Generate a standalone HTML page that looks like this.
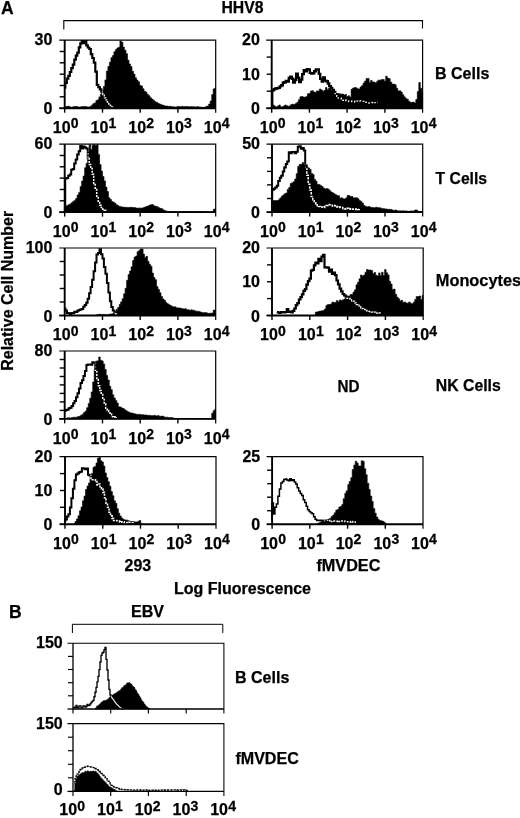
<!DOCTYPE html>
<html><head><meta charset="utf-8"><title>Figure</title>
<style>html,body{margin:0;padding:0;background:#fff}svg{display:block}</style>
</head><body>
<svg width="520" height="818" viewBox="0 0 520 818">
<rect width="520" height="818" fill="#fff"/>
<path d="M63.8 29.5 V20.6 H422.5 V28.5" fill="none" stroke="#000" stroke-width="1.1"/>
<path d="M72.4 633 V624.3 H222.8 V633" fill="none" stroke="#000" stroke-width="1.0"/>
<path d="M64.6 87.6H65.3 V82.9H66.8 V78.7H68.3 V75.9H69.8 V72.0H71.3 V68.1H72.8 V64.7H74.3 V59.7H75.8 V55.7H77.3 V52.6H78.8 V47.4H80.3 V43.4H81.8 V41.0H83.3 V43.2H84.8 V41.1H86.3 V45.4H87.8 V47.5H89.3 V49.0H90.8 V54.2H92.3 V58.0H93.8 V62.6H95.3 V71.7H96.8 V84.8H98.3 V87.1H99.8 V89.3H101.3 V91.6H102.8 V94.5H104.3 V97.8H105.8 V99.9H107.3 V102.2H108.8 V104.1H110.3 V105.5H111.8 V106.9H113.3 V107.5H114.0" fill="none" stroke="#000" stroke-width="2.20" stroke-linejoin="miter"/>
<clipPath id="c1"><path d="M65.0 108.2 V107.2H65.8 V106.5H67.3 V106.2H68.8 V106.5H70.3 V107.4H71.8 V107.0H73.3 V106.6H74.8 V106.6H76.3 V106.4H77.8 V107.1H79.3 V107.0H80.8 V106.7H82.3 V106.6H83.8 V106.4H85.3 V106.5H86.8 V106.9H88.3 V106.9H89.8 V106.5H91.3 V105.2H92.8 V103.8H94.3 V102.9H95.9 V100.6H97.4 V99.8H98.9 V96.9H100.4 V94.2H101.9 V91.2H103.4 V86.4H104.9 V79.9H106.4 V71.1H107.9 V66.4H109.4 V62.3H110.9 V57.7H112.4 V55.6H113.9 V51.7H115.4 V49.6H116.9 V48.0H118.4 V47.2H119.9 V41.0H121.4 V42.2H122.9 V47.1H124.4 V50.2H126.0 V53.7H127.5 V60.2H129.0 V64.0H130.5 V66.6H132.0 V71.2H133.5 V74.1H135.0 V77.8H136.5 V80.1H138.0 V81.7H139.5 V85.3H141.0 V86.0H142.5 V88.8H144.0 V91.2H145.5 V92.2H147.0 V94.4H148.5 V95.7H150.0 V97.8H151.5 V99.1H153.0 V100.2H154.5 V101.7H156.1 V102.3H157.6 V103.3H159.1 V104.0H160.6 V104.7H162.1 V105.1H163.6 V105.7H165.1 V106.1H166.6 V106.0H168.1 V106.4H169.6 V106.2H171.1 V106.7H172.6 V106.7H174.1 V107.0H175.6 V106.9H177.1 V106.5H178.6 V106.6H180.1 V106.8H181.6 V106.3H183.1 V106.7H184.6 V106.5H186.2 V106.5H187.7 V106.5H189.2 V107.0H190.7 V106.6H192.2 V106.7H193.7 V106.8H195.2 V107.2H196.7 V106.6H198.2 V106.9H199.7 V107.0H201.2 V107.3H202.7 V107.3H204.2 V107.3H205.7 V106.6H207.2 V105.9H208.7 V104.0H210.2 V100.9H211.7 V94.6H213.2 V88.9H214.7 V88.0H215.5V108.2 Z"/></clipPath>
<path d="M65.0 108.2 V107.2H65.8 V106.5H67.3 V106.2H68.8 V106.5H70.3 V107.4H71.8 V107.0H73.3 V106.6H74.8 V106.6H76.3 V106.4H77.8 V107.1H79.3 V107.0H80.8 V106.7H82.3 V106.6H83.8 V106.4H85.3 V106.5H86.8 V106.9H88.3 V106.9H89.8 V106.5H91.3 V105.2H92.8 V103.8H94.3 V102.9H95.9 V100.6H97.4 V99.8H98.9 V96.9H100.4 V94.2H101.9 V91.2H103.4 V86.4H104.9 V79.9H106.4 V71.1H107.9 V66.4H109.4 V62.3H110.9 V57.7H112.4 V55.6H113.9 V51.7H115.4 V49.6H116.9 V48.0H118.4 V47.2H119.9 V41.0H121.4 V42.2H122.9 V47.1H124.4 V50.2H126.0 V53.7H127.5 V60.2H129.0 V64.0H130.5 V66.6H132.0 V71.2H133.5 V74.1H135.0 V77.8H136.5 V80.1H138.0 V81.7H139.5 V85.3H141.0 V86.0H142.5 V88.8H144.0 V91.2H145.5 V92.2H147.0 V94.4H148.5 V95.7H150.0 V97.8H151.5 V99.1H153.0 V100.2H154.5 V101.7H156.1 V102.3H157.6 V103.3H159.1 V104.0H160.6 V104.7H162.1 V105.1H163.6 V105.7H165.1 V106.1H166.6 V106.0H168.1 V106.4H169.6 V106.2H171.1 V106.7H172.6 V106.7H174.1 V107.0H175.6 V106.9H177.1 V106.5H178.6 V106.6H180.1 V106.8H181.6 V106.3H183.1 V106.7H184.6 V106.5H186.2 V106.5H187.7 V106.5H189.2 V107.0H190.7 V106.6H192.2 V106.7H193.7 V106.8H195.2 V107.2H196.7 V106.6H198.2 V106.9H199.7 V107.0H201.2 V107.3H202.7 V107.3H204.2 V107.3H205.7 V106.6H207.2 V105.9H208.7 V104.0H210.2 V100.9H211.7 V94.6H213.2 V88.9H214.7 V88.0H215.5V108.2 Z" fill="#000" stroke="#000" stroke-width="0.6"/>
<path d="M64.6 87.6H65.3 V82.9H66.8 V78.7H68.3 V75.9H69.8 V72.0H71.3 V68.1H72.8 V64.7H74.3 V59.7H75.8 V55.7H77.3 V52.6H78.8 V47.4H80.3 V43.4H81.8 V41.0H83.3 V43.2H84.8 V41.1H86.3 V45.4H87.8 V47.5H89.3 V49.0H90.8 V54.2H92.3 V58.0H93.8 V62.6H95.3 V71.7H96.8 V84.8H98.3 V87.1H99.8 V89.3H101.3 V91.6H102.8 V94.5H104.3 V97.8H105.8 V99.9H107.3 V102.2H108.8 V104.1H110.3 V105.5H111.8 V106.9H113.3 V107.5H114.0" fill="none" stroke="#fff" stroke-width="1.30" stroke-dasharray="2 1.2" clip-path="url(#c1)"/>
<path d="M59.2 40.1 H215.7 V112.7" fill="none" stroke="#000" stroke-width="1.20"/>
<path d="M64.7 40.1 V108.2 H215.7" fill="none" stroke="#000" stroke-width="1.90"/>
<path d="M59.2 108.2 H64.7" fill="none" stroke="#000" stroke-width="1.90"/>
<path d="M59.7 51.5 H64.7" stroke="#000" stroke-width="1.40"/>
<path d="M59.7 62.8 H64.7" stroke="#000" stroke-width="1.40"/>
<path d="M59.7 74.2 H64.7" stroke="#000" stroke-width="1.40"/>
<path d="M59.7 85.5 H64.7" stroke="#000" stroke-width="1.40"/>
<path d="M59.7 96.8 H64.7" stroke="#000" stroke-width="1.40"/>
<path d="M64.7 108.2 V112.7" stroke="#000" stroke-width="1.40"/>
<path d="M102.5 108.2 V112.7" stroke="#000" stroke-width="1.40"/>
<path d="M140.2 108.2 V112.7" stroke="#000" stroke-width="1.40"/>
<path d="M177.9 108.2 V112.7" stroke="#000" stroke-width="1.40"/>
<text x="52.4" y="45.1" font-family="Liberation Sans, Arial, Helvetica, sans-serif" font-weight="bold" stroke="#000" stroke-width="0.25" font-size="16.0" text-anchor="end">30</text>
<text x="52.4" y="114.4" font-family="Liberation Sans, Arial, Helvetica, sans-serif" font-weight="bold" stroke="#000" stroke-width="0.25" font-size="16.0" text-anchor="end">0</text>
<text x="52.8" y="132.8" font-family="Liberation Sans, Arial, Helvetica, sans-serif" font-weight="bold" stroke="#000" stroke-width="0.25" font-size="16.0">10</text>
<text transform="translate(70.8 128.4) scale(0.54)" font-family="Liberation Sans, Arial, Helvetica, sans-serif" font-weight="bold" stroke="#000" stroke-width="0.5" font-size="26">0</text>
<text x="90.5" y="132.8" font-family="Liberation Sans, Arial, Helvetica, sans-serif" font-weight="bold" stroke="#000" stroke-width="0.25" font-size="16.0">10</text>
<text transform="translate(108.5 128.4) scale(0.54)" font-family="Liberation Sans, Arial, Helvetica, sans-serif" font-weight="bold" stroke="#000" stroke-width="0.5" font-size="26">1</text>
<text x="128.3" y="132.8" font-family="Liberation Sans, Arial, Helvetica, sans-serif" font-weight="bold" stroke="#000" stroke-width="0.25" font-size="16.0">10</text>
<text transform="translate(146.3 128.4) scale(0.54)" font-family="Liberation Sans, Arial, Helvetica, sans-serif" font-weight="bold" stroke="#000" stroke-width="0.5" font-size="26">2</text>
<text x="166.0" y="132.8" font-family="Liberation Sans, Arial, Helvetica, sans-serif" font-weight="bold" stroke="#000" stroke-width="0.25" font-size="16.0">10</text>
<text transform="translate(184.0 128.4) scale(0.54)" font-family="Liberation Sans, Arial, Helvetica, sans-serif" font-weight="bold" stroke="#000" stroke-width="0.5" font-size="26">3</text>
<text x="203.8" y="132.8" font-family="Liberation Sans, Arial, Helvetica, sans-serif" font-weight="bold" stroke="#000" stroke-width="0.25" font-size="16.0">10</text>
<text transform="translate(221.8 128.4) scale(0.54)" font-family="Liberation Sans, Arial, Helvetica, sans-serif" font-weight="bold" stroke="#000" stroke-width="0.5" font-size="26">4</text>
<path d="M64.4 204.8H65.2 V178.6H66.7 V177.9H68.2 V175.8H69.7 V174.4H71.2 V169.8H72.7 V169.0H74.2 V163.5H75.7 V159.5H77.2 V154.6H78.7 V151.3H80.2 V146.0H81.7 V148.4H83.2 V146.5H84.7 V147.6H86.2 V148.6H87.7 V157.7H89.2 V164.4H90.7 V168.5H92.2 V174.3H93.7 V183.4H95.2 V189.5H96.7 V197.5H98.2 V202.4H99.7 V205.3H101.2 V207.5H102.7 V209.2H104.2 V210.2H105.7 V211.3H106.5" fill="none" stroke="#000" stroke-width="2.00" stroke-linejoin="miter"/>
<clipPath id="c2"><path d="M64.4 212.1 V206.8H65.1 V206.2H66.6 V205.4H68.1 V204.8H69.6 V204.0H71.1 V202.8H72.6 V201.4H74.1 V200.4H75.6 V198.5H77.1 V195.0H78.6 V192.4H80.1 V186.4H81.6 V181.1H83.1 V176.0H84.6 V167.7H86.1 V163.3H87.6 V151.5H89.1 V144.8H90.6 V149.4H92.1 V145.3H93.6 V144.7H95.1 V145.4H96.6 V144.7H98.1 V154.4H99.6 V164.6H101.1 V171.1H102.5 V176.4H104.0 V180.9H105.5 V187.1H107.0 V191.6H108.5 V197.8H110.0 V199.5H111.5 V201.6H113.0 V202.2H114.5 V203.3H116.0 V204.7H117.5 V205.7H119.0 V206.4H120.5 V206.8H122.0 V207.1H123.5 V207.3H125.0 V207.2H126.5 V207.6H128.0 V207.5H129.5 V207.3H131.0 V207.3H132.5 V207.6H134.0 V207.6H135.5 V208.0H137.0 V208.3H138.5 V207.9H139.9 V208.2H141.4 V208.0H142.9 V207.7H144.4 V207.0H145.9 V206.5H147.4 V205.9H148.9 V205.3H150.4 V204.7H151.9 V204.6H153.4 V205.8H154.9 V206.3H156.4 V206.6H157.9 V207.4H159.4 V208.3H160.9 V208.5H162.4 V209.7H163.9 V210.4H165.4 V210.9H166.9 V211.4H168.4 V211.5H169.9 V211.4H171.4 V211.6H172.9 V211.5H174.4 V211.6H175.9 V211.7H177.4 V211.5H178.8 V211.5H180.3 V211.7H181.8 V211.6H183.3 V211.5H184.8 V211.5H186.3 V211.5H187.8 V211.7H189.3 V211.7H190.8 V211.5H192.3 V211.7H193.8 V211.8H195.3 V211.7H196.8 V211.6H198.3 V211.7H199.8 V211.5H201.3 V211.5H202.8 V211.8H204.3 V211.7H205.8 V211.7H207.3 V211.8H208.8 V211.7H210.3 V211.8H211.8 V211.8H213.3 V209.3H214.8 V208.8H215.5V212.1 Z"/></clipPath>
<path d="M64.4 212.1 V206.8H65.1 V206.2H66.6 V205.4H68.1 V204.8H69.6 V204.0H71.1 V202.8H72.6 V201.4H74.1 V200.4H75.6 V198.5H77.1 V195.0H78.6 V192.4H80.1 V186.4H81.6 V181.1H83.1 V176.0H84.6 V167.7H86.1 V163.3H87.6 V151.5H89.1 V144.8H90.6 V149.4H92.1 V145.3H93.6 V144.7H95.1 V145.4H96.6 V144.7H98.1 V154.4H99.6 V164.6H101.1 V171.1H102.5 V176.4H104.0 V180.9H105.5 V187.1H107.0 V191.6H108.5 V197.8H110.0 V199.5H111.5 V201.6H113.0 V202.2H114.5 V203.3H116.0 V204.7H117.5 V205.7H119.0 V206.4H120.5 V206.8H122.0 V207.1H123.5 V207.3H125.0 V207.2H126.5 V207.6H128.0 V207.5H129.5 V207.3H131.0 V207.3H132.5 V207.6H134.0 V207.6H135.5 V208.0H137.0 V208.3H138.5 V207.9H139.9 V208.2H141.4 V208.0H142.9 V207.7H144.4 V207.0H145.9 V206.5H147.4 V205.9H148.9 V205.3H150.4 V204.7H151.9 V204.6H153.4 V205.8H154.9 V206.3H156.4 V206.6H157.9 V207.4H159.4 V208.3H160.9 V208.5H162.4 V209.7H163.9 V210.4H165.4 V210.9H166.9 V211.4H168.4 V211.5H169.9 V211.4H171.4 V211.6H172.9 V211.5H174.4 V211.6H175.9 V211.7H177.4 V211.5H178.8 V211.5H180.3 V211.7H181.8 V211.6H183.3 V211.5H184.8 V211.5H186.3 V211.5H187.8 V211.7H189.3 V211.7H190.8 V211.5H192.3 V211.7H193.8 V211.8H195.3 V211.7H196.8 V211.6H198.3 V211.7H199.8 V211.5H201.3 V211.5H202.8 V211.8H204.3 V211.7H205.8 V211.7H207.3 V211.8H208.8 V211.7H210.3 V211.8H211.8 V211.8H213.3 V209.3H214.8 V208.8H215.5V212.1 Z" fill="#000" stroke="#000" stroke-width="0.6"/>
<path d="M64.4 204.8H65.2 V178.6H66.7 V177.9H68.2 V175.8H69.7 V174.4H71.2 V169.8H72.7 V169.0H74.2 V163.5H75.7 V159.5H77.2 V154.6H78.7 V151.3H80.2 V146.0H81.7 V148.4H83.2 V146.5H84.7 V147.6H86.2 V148.6H87.7 V157.7H89.2 V164.4H90.7 V168.5H92.2 V174.3H93.7 V183.4H95.2 V189.5H96.7 V197.5H98.2 V202.4H99.7 V205.3H101.2 V207.5H102.7 V209.2H104.2 V210.2H105.7 V211.3H106.5" fill="none" stroke="#fff" stroke-width="1.50" stroke-dasharray="2 1.2" clip-path="url(#c2)"/>
<path d="M59.2 144.2 H215.7 V216.6" fill="none" stroke="#000" stroke-width="1.20"/>
<path d="M64.7 144.2 V212.1 H215.7" fill="none" stroke="#000" stroke-width="1.90"/>
<path d="M59.2 212.1 H64.7" fill="none" stroke="#000" stroke-width="1.90"/>
<path d="M59.7 155.5 H64.7" stroke="#000" stroke-width="1.40"/>
<path d="M59.7 166.8 H64.7" stroke="#000" stroke-width="1.40"/>
<path d="M59.7 178.1 H64.7" stroke="#000" stroke-width="1.40"/>
<path d="M59.7 189.5 H64.7" stroke="#000" stroke-width="1.40"/>
<path d="M59.7 200.8 H64.7" stroke="#000" stroke-width="1.40"/>
<path d="M64.7 212.1 V216.6" stroke="#000" stroke-width="1.40"/>
<path d="M102.5 212.1 V216.6" stroke="#000" stroke-width="1.40"/>
<path d="M140.2 212.1 V216.6" stroke="#000" stroke-width="1.40"/>
<path d="M177.9 212.1 V216.6" stroke="#000" stroke-width="1.40"/>
<text x="52.4" y="149.2" font-family="Liberation Sans, Arial, Helvetica, sans-serif" font-weight="bold" stroke="#000" stroke-width="0.25" font-size="16.0" text-anchor="end">60</text>
<text x="52.4" y="218.3" font-family="Liberation Sans, Arial, Helvetica, sans-serif" font-weight="bold" stroke="#000" stroke-width="0.25" font-size="16.0" text-anchor="end">0</text>
<text x="52.8" y="236.7" font-family="Liberation Sans, Arial, Helvetica, sans-serif" font-weight="bold" stroke="#000" stroke-width="0.25" font-size="16.0">10</text>
<text transform="translate(70.8 232.3) scale(0.54)" font-family="Liberation Sans, Arial, Helvetica, sans-serif" font-weight="bold" stroke="#000" stroke-width="0.5" font-size="26">0</text>
<text x="90.5" y="236.7" font-family="Liberation Sans, Arial, Helvetica, sans-serif" font-weight="bold" stroke="#000" stroke-width="0.25" font-size="16.0">10</text>
<text transform="translate(108.5 232.3) scale(0.54)" font-family="Liberation Sans, Arial, Helvetica, sans-serif" font-weight="bold" stroke="#000" stroke-width="0.5" font-size="26">1</text>
<text x="128.3" y="236.7" font-family="Liberation Sans, Arial, Helvetica, sans-serif" font-weight="bold" stroke="#000" stroke-width="0.25" font-size="16.0">10</text>
<text transform="translate(146.3 232.3) scale(0.54)" font-family="Liberation Sans, Arial, Helvetica, sans-serif" font-weight="bold" stroke="#000" stroke-width="0.5" font-size="26">2</text>
<text x="166.0" y="236.7" font-family="Liberation Sans, Arial, Helvetica, sans-serif" font-weight="bold" stroke="#000" stroke-width="0.25" font-size="16.0">10</text>
<text transform="translate(184.0 232.3) scale(0.54)" font-family="Liberation Sans, Arial, Helvetica, sans-serif" font-weight="bold" stroke="#000" stroke-width="0.5" font-size="26">3</text>
<text x="203.8" y="236.7" font-family="Liberation Sans, Arial, Helvetica, sans-serif" font-weight="bold" stroke="#000" stroke-width="0.25" font-size="16.0">10</text>
<text transform="translate(221.8 232.3) scale(0.54)" font-family="Liberation Sans, Arial, Helvetica, sans-serif" font-weight="bold" stroke="#000" stroke-width="0.5" font-size="26">4</text>
<path d="M64.7 308.5H65.4 V310.4H66.9 V313.1H68.4 V313.3H69.9 V313.9H71.4 V313.1H72.8 V313.2H74.3 V311.8H75.8 V312.0H77.3 V310.8H78.8 V310.0H80.2 V309.5H81.7 V308.9H83.2 V306.7H84.7 V305.0H86.2 V302.8H87.6 V298.7H89.1 V293.2H90.6 V287.0H92.1 V279.8H93.6 V271.3H95.1 V262.6H96.5 V254.5H98.0 V252.9H99.5 V249.2H101.0 V254.3H102.5 V258.6H103.9 V266.9H105.4 V273.8H106.9 V282.9H108.4 V292.4H109.9 V301.3H111.3 V307.0H112.8 V310.4H114.3 V312.8H115.8 V314.0H117.3 V313.9H118.0" fill="none" stroke="#000" stroke-width="2.00" stroke-linejoin="miter"/>
<clipPath id="c3"><path d="M96.0 315.5 V314.9H96.7 V314.8H98.2 V314.3H99.7 V314.3H101.2 V314.6H102.7 V314.4H104.2 V314.5H105.7 V314.7H107.2 V314.8H108.7 V314.2H110.2 V314.1H111.7 V313.7H113.2 V313.3H114.7 V311.5H116.2 V309.4H117.7 V307.5H119.2 V304.5H120.6 V301.9H122.1 V298.7H123.6 V293.8H125.1 V288.3H126.6 V280.3H128.1 V274.5H129.6 V271.1H131.1 V266.8H132.6 V260.5H134.1 V257.1H135.6 V256.0H137.1 V251.7H138.6 V250.5H140.1 V249.0H141.6 V249.0H143.1 V254.1H144.5 V257.4H146.0 V256.3H147.5 V261.3H149.0 V264.2H150.5 V266.2H152.0 V273.1H153.5 V277.6H155.0 V279.7H156.5 V286.6H158.0 V289.4H159.5 V292.8H161.0 V296.5H162.5 V298.9H164.0 V300.3H165.5 V302.6H167.0 V303.7H168.4 V304.6H169.9 V305.5H171.4 V306.2H172.9 V306.9H174.4 V306.8H175.9 V307.7H177.4 V308.0H178.9 V307.9H180.4 V308.3H181.9 V308.8H183.4 V308.9H184.9 V308.7H186.4 V309.7H187.9 V309.8H189.4 V310.2H190.9 V309.8H192.3 V310.3H193.8 V310.4H195.3 V311.3H196.8 V311.2H198.3 V311.4H199.8 V311.9H201.3 V312.6H202.8 V312.8H204.3 V312.6H205.8 V312.7H207.3 V313.4H208.8 V313.2H210.3 V313.3H211.8 V312.9H213.3 V310.0H214.8 V310.2H215.5V315.5 Z"/></clipPath>
<path d="M96.0 315.5 V314.9H96.7 V314.8H98.2 V314.3H99.7 V314.3H101.2 V314.6H102.7 V314.4H104.2 V314.5H105.7 V314.7H107.2 V314.8H108.7 V314.2H110.2 V314.1H111.7 V313.7H113.2 V313.3H114.7 V311.5H116.2 V309.4H117.7 V307.5H119.2 V304.5H120.6 V301.9H122.1 V298.7H123.6 V293.8H125.1 V288.3H126.6 V280.3H128.1 V274.5H129.6 V271.1H131.1 V266.8H132.6 V260.5H134.1 V257.1H135.6 V256.0H137.1 V251.7H138.6 V250.5H140.1 V249.0H141.6 V249.0H143.1 V254.1H144.5 V257.4H146.0 V256.3H147.5 V261.3H149.0 V264.2H150.5 V266.2H152.0 V273.1H153.5 V277.6H155.0 V279.7H156.5 V286.6H158.0 V289.4H159.5 V292.8H161.0 V296.5H162.5 V298.9H164.0 V300.3H165.5 V302.6H167.0 V303.7H168.4 V304.6H169.9 V305.5H171.4 V306.2H172.9 V306.9H174.4 V306.8H175.9 V307.7H177.4 V308.0H178.9 V307.9H180.4 V308.3H181.9 V308.8H183.4 V308.9H184.9 V308.7H186.4 V309.7H187.9 V309.8H189.4 V310.2H190.9 V309.8H192.3 V310.3H193.8 V310.4H195.3 V311.3H196.8 V311.2H198.3 V311.4H199.8 V311.9H201.3 V312.6H202.8 V312.8H204.3 V312.6H205.8 V312.7H207.3 V313.4H208.8 V313.2H210.3 V313.3H211.8 V312.9H213.3 V310.0H214.8 V310.2H215.5V315.5 Z" fill="#000" stroke="#000" stroke-width="0.6"/>
<path d="M64.7 308.5H65.4 V310.4H66.9 V313.1H68.4 V313.3H69.9 V313.9H71.4 V313.1H72.8 V313.2H74.3 V311.8H75.8 V312.0H77.3 V310.8H78.8 V310.0H80.2 V309.5H81.7 V308.9H83.2 V306.7H84.7 V305.0H86.2 V302.8H87.6 V298.7H89.1 V293.2H90.6 V287.0H92.1 V279.8H93.6 V271.3H95.1 V262.6H96.5 V254.5H98.0 V252.9H99.5 V249.2H101.0 V254.3H102.5 V258.6H103.9 V266.9H105.4 V273.8H106.9 V282.9H108.4 V292.4H109.9 V301.3H111.3 V307.0H112.8 V310.4H114.3 V312.8H115.8 V314.0H117.3 V313.9H118.0" fill="none" stroke="#fff" stroke-width="1.30" stroke-dasharray="2 1.2" clip-path="url(#c3)"/>
<path d="M59.2 248.0 H215.7 V320.0" fill="none" stroke="#000" stroke-width="1.20"/>
<path d="M64.7 248.0 V315.5 H215.7" fill="none" stroke="#000" stroke-width="1.90"/>
<path d="M59.2 315.5 H64.7" fill="none" stroke="#000" stroke-width="1.90"/>
<path d="M59.7 261.5 H64.7" stroke="#000" stroke-width="1.40"/>
<path d="M59.7 275.0 H64.7" stroke="#000" stroke-width="1.40"/>
<path d="M59.7 288.5 H64.7" stroke="#000" stroke-width="1.40"/>
<path d="M59.7 302.0 H64.7" stroke="#000" stroke-width="1.40"/>
<path d="M64.7 315.5 V320.0" stroke="#000" stroke-width="1.40"/>
<path d="M102.5 315.5 V320.0" stroke="#000" stroke-width="1.40"/>
<path d="M140.2 315.5 V320.0" stroke="#000" stroke-width="1.40"/>
<path d="M177.9 315.5 V320.0" stroke="#000" stroke-width="1.40"/>
<text x="52.4" y="253.0" font-family="Liberation Sans, Arial, Helvetica, sans-serif" font-weight="bold" stroke="#000" stroke-width="0.25" font-size="16.0" text-anchor="end">100</text>
<text x="52.4" y="321.7" font-family="Liberation Sans, Arial, Helvetica, sans-serif" font-weight="bold" stroke="#000" stroke-width="0.25" font-size="16.0" text-anchor="end">0</text>
<text x="52.8" y="340.1" font-family="Liberation Sans, Arial, Helvetica, sans-serif" font-weight="bold" stroke="#000" stroke-width="0.25" font-size="16.0">10</text>
<text transform="translate(70.8 335.7) scale(0.54)" font-family="Liberation Sans, Arial, Helvetica, sans-serif" font-weight="bold" stroke="#000" stroke-width="0.5" font-size="26">0</text>
<text x="90.5" y="340.1" font-family="Liberation Sans, Arial, Helvetica, sans-serif" font-weight="bold" stroke="#000" stroke-width="0.25" font-size="16.0">10</text>
<text transform="translate(108.5 335.7) scale(0.54)" font-family="Liberation Sans, Arial, Helvetica, sans-serif" font-weight="bold" stroke="#000" stroke-width="0.5" font-size="26">1</text>
<text x="128.3" y="340.1" font-family="Liberation Sans, Arial, Helvetica, sans-serif" font-weight="bold" stroke="#000" stroke-width="0.25" font-size="16.0">10</text>
<text transform="translate(146.3 335.7) scale(0.54)" font-family="Liberation Sans, Arial, Helvetica, sans-serif" font-weight="bold" stroke="#000" stroke-width="0.5" font-size="26">2</text>
<text x="166.0" y="340.1" font-family="Liberation Sans, Arial, Helvetica, sans-serif" font-weight="bold" stroke="#000" stroke-width="0.25" font-size="16.0">10</text>
<text transform="translate(184.0 335.7) scale(0.54)" font-family="Liberation Sans, Arial, Helvetica, sans-serif" font-weight="bold" stroke="#000" stroke-width="0.5" font-size="26">3</text>
<text x="203.8" y="340.1" font-family="Liberation Sans, Arial, Helvetica, sans-serif" font-weight="bold" stroke="#000" stroke-width="0.25" font-size="16.0">10</text>
<text transform="translate(221.8 335.7) scale(0.54)" font-family="Liberation Sans, Arial, Helvetica, sans-serif" font-weight="bold" stroke="#000" stroke-width="0.5" font-size="26">4</text>
<path d="M64.9 410.9H65.6 V410.1H67.1 V409.7H68.6 V408.2H70.1 V407.8H71.6 V405.9H73.1 V403.2H74.5 V400.9H76.0 V397.3H77.5 V393.2H79.0 V388.5H80.5 V383.0H82.0 V380.3H83.4 V376.1H84.9 V370.9H86.4 V365.1H87.9 V364.4H89.4 V364.4H90.8 V364.7H92.3 V362.3H93.8 V362.8H95.3 V371.4H96.8 V379.4H98.3 V385.8H99.7 V390.4H101.2 V394.4H102.7 V399.4H104.2 V403.8H105.7 V408.3H107.2 V410.3H108.6 V412.9H110.1 V414.1H111.6 V416.7H113.1 V417.3H114.6 V416.8H116.1 V417.8H116.8" fill="none" stroke="#000" stroke-width="2.00" stroke-linejoin="miter"/>
<clipPath id="c4"><path d="M66.3 418.9 V418.3H67.1 V417.8H68.6 V417.8H70.1 V418.0H71.6 V417.5H73.1 V417.3H74.6 V417.2H76.1 V417.2H77.6 V416.4H79.1 V416.3H80.6 V415.2H82.1 V414.2H83.6 V412.6H85.1 V411.1H86.6 V407.7H88.2 V403.4H89.7 V398.2H91.2 V391.9H92.7 V382.0H94.2 V370.1H95.7 V361.2H97.2 V360.8H98.7 V357.0H100.2 V360.2H101.7 V360.9H103.2 V363.9H104.7 V369.5H106.2 V375.4H107.7 V380.0H109.3 V386.3H110.8 V389.7H112.3 V394.7H113.8 V398.0H115.3 V400.4H116.8 V403.0H118.3 V406.8H119.8 V407.0H121.3 V408.0H122.8 V408.6H124.3 V409.8H125.8 V410.8H127.3 V411.7H128.8 V412.4H130.4 V413.1H131.9 V413.1H133.4 V413.7H134.9 V413.9H136.4 V414.5H137.9 V414.3H139.4 V414.4H140.9 V414.7H142.4 V414.7H143.9 V415.0H145.4 V415.0H146.9 V415.3H148.4 V415.3H149.9 V415.4H151.4 V415.7H153.0 V415.4H154.5 V415.5H156.0 V416.1H157.5 V415.6H159.0 V416.2H160.5 V416.3H162.0 V416.1H163.5 V416.9H165.0 V417.2H166.5 V417.2H168.0 V417.5H169.5 V417.8H171.0 V417.5H172.5 V418.1H174.1 V418.3H175.6 V418.6H177.1 V418.6H178.6 V418.6H180.1 V418.6H181.6 V418.7H183.1 V418.6H184.6 V418.6H186.1 V418.5H187.6 V418.4H189.1 V418.5H190.6 V418.5H192.1 V418.5H193.6 V418.7H195.2 V418.6H196.7 V418.7H198.2 V418.7H199.7 V418.7H201.2 V418.6H202.7 V418.5H204.2 V418.8H205.7 V418.7H207.2 V418.7H208.7 V418.7H210.2 V418.7H211.7 V413.2H213.2 V410.8H214.7 V409.3H215.5V418.9 Z"/></clipPath>
<path d="M66.3 418.9 V418.3H67.1 V417.8H68.6 V417.8H70.1 V418.0H71.6 V417.5H73.1 V417.3H74.6 V417.2H76.1 V417.2H77.6 V416.4H79.1 V416.3H80.6 V415.2H82.1 V414.2H83.6 V412.6H85.1 V411.1H86.6 V407.7H88.2 V403.4H89.7 V398.2H91.2 V391.9H92.7 V382.0H94.2 V370.1H95.7 V361.2H97.2 V360.8H98.7 V357.0H100.2 V360.2H101.7 V360.9H103.2 V363.9H104.7 V369.5H106.2 V375.4H107.7 V380.0H109.3 V386.3H110.8 V389.7H112.3 V394.7H113.8 V398.0H115.3 V400.4H116.8 V403.0H118.3 V406.8H119.8 V407.0H121.3 V408.0H122.8 V408.6H124.3 V409.8H125.8 V410.8H127.3 V411.7H128.8 V412.4H130.4 V413.1H131.9 V413.1H133.4 V413.7H134.9 V413.9H136.4 V414.5H137.9 V414.3H139.4 V414.4H140.9 V414.7H142.4 V414.7H143.9 V415.0H145.4 V415.0H146.9 V415.3H148.4 V415.3H149.9 V415.4H151.4 V415.7H153.0 V415.4H154.5 V415.5H156.0 V416.1H157.5 V415.6H159.0 V416.2H160.5 V416.3H162.0 V416.1H163.5 V416.9H165.0 V417.2H166.5 V417.2H168.0 V417.5H169.5 V417.8H171.0 V417.5H172.5 V418.1H174.1 V418.3H175.6 V418.6H177.1 V418.6H178.6 V418.6H180.1 V418.6H181.6 V418.7H183.1 V418.6H184.6 V418.6H186.1 V418.5H187.6 V418.4H189.1 V418.5H190.6 V418.5H192.1 V418.5H193.6 V418.7H195.2 V418.6H196.7 V418.7H198.2 V418.7H199.7 V418.7H201.2 V418.6H202.7 V418.5H204.2 V418.8H205.7 V418.7H207.2 V418.7H208.7 V418.7H210.2 V418.7H211.7 V413.2H213.2 V410.8H214.7 V409.3H215.5V418.9 Z" fill="#000" stroke="#000" stroke-width="0.6"/>
<path d="M64.9 410.9H65.6 V410.1H67.1 V409.7H68.6 V408.2H70.1 V407.8H71.6 V405.9H73.1 V403.2H74.5 V400.9H76.0 V397.3H77.5 V393.2H79.0 V388.5H80.5 V383.0H82.0 V380.3H83.4 V376.1H84.9 V370.9H86.4 V365.1H87.9 V364.4H89.4 V364.4H90.8 V364.7H92.3 V362.3H93.8 V362.8H95.3 V371.4H96.8 V379.4H98.3 V385.8H99.7 V390.4H101.2 V394.4H102.7 V399.4H104.2 V403.8H105.7 V408.3H107.2 V410.3H108.6 V412.9H110.1 V414.1H111.6 V416.7H113.1 V417.3H114.6 V416.8H116.1 V417.8H116.8" fill="none" stroke="#fff" stroke-width="1.50" stroke-dasharray="2 1.2" clip-path="url(#c4)"/>
<path d="M59.2 351.0 H215.7 V423.4" fill="none" stroke="#000" stroke-width="1.20"/>
<path d="M64.7 351.0 V418.9 H215.7" fill="none" stroke="#000" stroke-width="1.90"/>
<path d="M59.2 418.9 H64.7" fill="none" stroke="#000" stroke-width="1.90"/>
<path d="M59.7 359.5 H64.7" stroke="#000" stroke-width="1.40"/>
<path d="M59.7 368.0 H64.7" stroke="#000" stroke-width="1.40"/>
<path d="M59.7 376.5 H64.7" stroke="#000" stroke-width="1.40"/>
<path d="M59.7 384.9 H64.7" stroke="#000" stroke-width="1.40"/>
<path d="M59.7 393.4 H64.7" stroke="#000" stroke-width="1.40"/>
<path d="M59.7 401.9 H64.7" stroke="#000" stroke-width="1.40"/>
<path d="M59.7 410.4 H64.7" stroke="#000" stroke-width="1.40"/>
<path d="M64.7 418.9 V423.4" stroke="#000" stroke-width="1.40"/>
<path d="M102.5 418.9 V423.4" stroke="#000" stroke-width="1.40"/>
<path d="M140.2 418.9 V423.4" stroke="#000" stroke-width="1.40"/>
<path d="M177.9 418.9 V423.4" stroke="#000" stroke-width="1.40"/>
<text x="52.4" y="356.0" font-family="Liberation Sans, Arial, Helvetica, sans-serif" font-weight="bold" stroke="#000" stroke-width="0.25" font-size="16.0" text-anchor="end">80</text>
<text x="52.4" y="425.1" font-family="Liberation Sans, Arial, Helvetica, sans-serif" font-weight="bold" stroke="#000" stroke-width="0.25" font-size="16.0" text-anchor="end">0</text>
<text x="52.8" y="443.5" font-family="Liberation Sans, Arial, Helvetica, sans-serif" font-weight="bold" stroke="#000" stroke-width="0.25" font-size="16.0">10</text>
<text transform="translate(70.8 439.1) scale(0.54)" font-family="Liberation Sans, Arial, Helvetica, sans-serif" font-weight="bold" stroke="#000" stroke-width="0.5" font-size="26">0</text>
<text x="90.5" y="443.5" font-family="Liberation Sans, Arial, Helvetica, sans-serif" font-weight="bold" stroke="#000" stroke-width="0.25" font-size="16.0">10</text>
<text transform="translate(108.5 439.1) scale(0.54)" font-family="Liberation Sans, Arial, Helvetica, sans-serif" font-weight="bold" stroke="#000" stroke-width="0.5" font-size="26">1</text>
<text x="128.3" y="443.5" font-family="Liberation Sans, Arial, Helvetica, sans-serif" font-weight="bold" stroke="#000" stroke-width="0.25" font-size="16.0">10</text>
<text transform="translate(146.3 439.1) scale(0.54)" font-family="Liberation Sans, Arial, Helvetica, sans-serif" font-weight="bold" stroke="#000" stroke-width="0.5" font-size="26">2</text>
<text x="166.0" y="443.5" font-family="Liberation Sans, Arial, Helvetica, sans-serif" font-weight="bold" stroke="#000" stroke-width="0.25" font-size="16.0">10</text>
<text transform="translate(184.0 439.1) scale(0.54)" font-family="Liberation Sans, Arial, Helvetica, sans-serif" font-weight="bold" stroke="#000" stroke-width="0.5" font-size="26">3</text>
<text x="203.8" y="443.5" font-family="Liberation Sans, Arial, Helvetica, sans-serif" font-weight="bold" stroke="#000" stroke-width="0.25" font-size="16.0">10</text>
<text transform="translate(221.8 439.1) scale(0.54)" font-family="Liberation Sans, Arial, Helvetica, sans-serif" font-weight="bold" stroke="#000" stroke-width="0.5" font-size="26">4</text>
<path d="M64.6 520.8H65.4 V519.4H66.9 V516.5H68.4 V514.3H69.9 V507.4H71.4 V498.2H72.9 V488.7H74.4 V480.3H75.9 V474.5H77.4 V473.6H78.9 V472.3H80.4 V471.8H81.9 V468.3H83.4 V468.5H84.9 V469.3H86.4 V468.4H88.0 V474.8H89.5 V475.5H91.0 V478.5H92.5 V479.7H94.0 V479.9H95.5 V480.6H97.0 V485.0H98.5 V484.0H100.0 V486.6H101.5 V489.0H103.0 V492.4H104.5 V497.7H106.0 V503.3H107.5 V507.2H109.0 V512.2H110.5 V515.9H112.1 V518.4H113.6 V520.5H115.1 V520.5H116.6 V520.8H118.1 V521.1H119.6 V522.1H121.1 V521.9H122.6 V521.9H124.1 V522.8H125.6 V523.0H127.1 V522.5H128.6 V522.3H130.1 V522.5H131.6 V522.5H133.1 V522.8H133.9" fill="none" stroke="#000" stroke-width="2.00" stroke-linejoin="miter"/>
<clipPath id="c5"><path d="M74.3 524.2 V523.6H75.0 V521.5H76.5 V518.9H78.0 V515.7H79.5 V510.8H81.0 V507.0H82.5 V500.7H84.0 V496.0H85.5 V489.5H87.0 V486.0H88.5 V483.0H90.0 V475.4H91.5 V473.4H93.0 V467.3H94.5 V466.4H96.0 V463.0H97.4 V458.3H98.9 V457.5H100.4 V460.8H101.9 V462.0H103.4 V466.0H104.9 V472.9H106.4 V477.6H107.9 V481.8H109.4 V486.2H110.9 V491.6H112.4 V495.7H113.9 V500.8H115.4 V503.3H116.9 V508.7H118.4 V513.2H119.8 V516.0H121.3 V518.1H122.8 V519.3H124.3 V519.9H125.8 V519.9H127.3 V520.5H128.8 V521.0H130.3 V521.9H131.8 V521.8H133.3 V521.8H134.8 V522.0H136.3 V522.1H137.8 V521.2H139.3 V520.6H140.8 V523.7H141.5V524.2 Z"/></clipPath>
<path d="M74.3 524.2 V523.6H75.0 V521.5H76.5 V518.9H78.0 V515.7H79.5 V510.8H81.0 V507.0H82.5 V500.7H84.0 V496.0H85.5 V489.5H87.0 V486.0H88.5 V483.0H90.0 V475.4H91.5 V473.4H93.0 V467.3H94.5 V466.4H96.0 V463.0H97.4 V458.3H98.9 V457.5H100.4 V460.8H101.9 V462.0H103.4 V466.0H104.9 V472.9H106.4 V477.6H107.9 V481.8H109.4 V486.2H110.9 V491.6H112.4 V495.7H113.9 V500.8H115.4 V503.3H116.9 V508.7H118.4 V513.2H119.8 V516.0H121.3 V518.1H122.8 V519.3H124.3 V519.9H125.8 V519.9H127.3 V520.5H128.8 V521.0H130.3 V521.9H131.8 V521.8H133.3 V521.8H134.8 V522.0H136.3 V522.1H137.8 V521.2H139.3 V520.6H140.8 V523.7H141.5V524.2 Z" fill="#000" stroke="#000" stroke-width="0.6"/>
<path d="M64.6 520.8H65.4 V519.4H66.9 V516.5H68.4 V514.3H69.9 V507.4H71.4 V498.2H72.9 V488.7H74.4 V480.3H75.9 V474.5H77.4 V473.6H78.9 V472.3H80.4 V471.8H81.9 V468.3H83.4 V468.5H84.9 V469.3H86.4 V468.4H88.0 V474.8H89.5 V475.5H91.0 V478.5H92.5 V479.7H94.0 V479.9H95.5 V480.6H97.0 V485.0H98.5 V484.0H100.0 V486.6H101.5 V489.0H103.0 V492.4H104.5 V497.7H106.0 V503.3H107.5 V507.2H109.0 V512.2H110.5 V515.9H112.1 V518.4H113.6 V520.5H115.1 V520.5H116.6 V520.8H118.1 V521.1H119.6 V522.1H121.1 V521.9H122.6 V521.9H124.1 V522.8H125.6 V523.0H127.1 V522.5H128.6 V522.3H130.1 V522.5H131.6 V522.5H133.1 V522.8H133.9" fill="none" stroke="#fff" stroke-width="1.60" stroke-dasharray="2 1.2" clip-path="url(#c5)"/>
<path d="M59.5 456.7 H216.0 V528.7" fill="none" stroke="#000" stroke-width="1.20"/>
<path d="M65.0 456.7 V524.2 H216.0" fill="none" stroke="#000" stroke-width="1.90"/>
<path d="M59.5 524.2 H65.0" fill="none" stroke="#000" stroke-width="1.90"/>
<path d="M60.0 473.6 H65.0" stroke="#000" stroke-width="1.40"/>
<path d="M60.0 490.5 H65.0" stroke="#000" stroke-width="1.40"/>
<path d="M60.0 507.3 H65.0" stroke="#000" stroke-width="1.40"/>
<path d="M65.0 524.2 V528.7" stroke="#000" stroke-width="1.40"/>
<path d="M102.8 524.2 V528.7" stroke="#000" stroke-width="1.40"/>
<path d="M140.5 524.2 V528.7" stroke="#000" stroke-width="1.40"/>
<path d="M178.2 524.2 V528.7" stroke="#000" stroke-width="1.40"/>
<text x="52.4" y="461.7" font-family="Liberation Sans, Arial, Helvetica, sans-serif" font-weight="bold" stroke="#000" stroke-width="0.25" font-size="16.0" text-anchor="end">20</text>
<text x="52.4" y="530.4" font-family="Liberation Sans, Arial, Helvetica, sans-serif" font-weight="bold" stroke="#000" stroke-width="0.25" font-size="16.0" text-anchor="end">0</text>
<text x="52.4" y="495.9" font-family="Liberation Sans, Arial, Helvetica, sans-serif" font-weight="bold" stroke="#000" stroke-width="0.25" font-size="16.0" text-anchor="end">10</text>
<text x="53.1" y="548.8" font-family="Liberation Sans, Arial, Helvetica, sans-serif" font-weight="bold" stroke="#000" stroke-width="0.25" font-size="16.0">10</text>
<text transform="translate(71.1 544.4) scale(0.54)" font-family="Liberation Sans, Arial, Helvetica, sans-serif" font-weight="bold" stroke="#000" stroke-width="0.5" font-size="26">0</text>
<text x="90.8" y="548.8" font-family="Liberation Sans, Arial, Helvetica, sans-serif" font-weight="bold" stroke="#000" stroke-width="0.25" font-size="16.0">10</text>
<text transform="translate(108.8 544.4) scale(0.54)" font-family="Liberation Sans, Arial, Helvetica, sans-serif" font-weight="bold" stroke="#000" stroke-width="0.5" font-size="26">1</text>
<text x="128.6" y="548.8" font-family="Liberation Sans, Arial, Helvetica, sans-serif" font-weight="bold" stroke="#000" stroke-width="0.25" font-size="16.0">10</text>
<text transform="translate(146.6 544.4) scale(0.54)" font-family="Liberation Sans, Arial, Helvetica, sans-serif" font-weight="bold" stroke="#000" stroke-width="0.5" font-size="26">2</text>
<text x="166.3" y="548.8" font-family="Liberation Sans, Arial, Helvetica, sans-serif" font-weight="bold" stroke="#000" stroke-width="0.25" font-size="16.0">10</text>
<text transform="translate(184.3 544.4) scale(0.54)" font-family="Liberation Sans, Arial, Helvetica, sans-serif" font-weight="bold" stroke="#000" stroke-width="0.5" font-size="26">3</text>
<text x="204.1" y="548.8" font-family="Liberation Sans, Arial, Helvetica, sans-serif" font-weight="bold" stroke="#000" stroke-width="0.25" font-size="16.0">10</text>
<text transform="translate(222.1 544.4) scale(0.54)" font-family="Liberation Sans, Arial, Helvetica, sans-serif" font-weight="bold" stroke="#000" stroke-width="0.5" font-size="26">4</text>
<path d="M271.5 106.8H272.2 V90.4H273.8 V89.3H275.2 V88.5H276.8 V88.2H278.2 V87.9H279.8 V86.4H281.2 V85.2H282.8 V82.7H284.2 V82.3H285.8 V80.9H287.2 V81.6H288.8 V77.9H290.2 V76.8H291.8 V78.7H293.2 V82.6H294.8 V80.0H296.2 V73.7H297.8 V77.7H299.2 V82.1H300.8 V79.6H302.2 V74.1H303.8 V70.2H305.2 V71.4H306.8 V69.1H308.2 V69.5H309.8 V72.9H311.2 V73.6H312.8 V73.2H314.2 V71.3H315.8 V69.4H317.2 V69.4H318.8 V73.9H320.2 V78.9H321.8 V81.6H323.2 V77.5H324.8 V80.6H326.2 V81.3H327.8 V83.5H329.2 V86.1H330.8 V88.0H332.2 V90.0H333.8 V92.0H335.2 V94.4H336.8 V96.2H338.2 V98.0H339.8 V98.3H341.2 V99.4H342.8 V100.3H344.2 V99.8H345.8 V100.5H347.2 V101.3H348.8 V101.6H350.2 V101.3H351.8 V101.5H353.2 V101.3H354.8 V102.0H356.2 V101.1H357.8 V101.4H359.2 V101.0H360.8 V101.1H362.2 V101.4H363.8 V102.4H365.2 V102.3H366.8 V102.3H368.2 V103.0H369.8 V102.8H371.2 V102.5H372.8 V102.1H374.2 V102.6H375.8 V102.6H377.2 V102.1H378.0" fill="none" stroke="#000" stroke-width="2.40" stroke-linejoin="miter"/>
<clipPath id="c6"><path d="M272.0 108.2 V107.4H272.8 V105.2H274.3 V106.2H275.8 V107.1H277.3 V106.1H278.8 V105.0H280.3 V106.8H281.8 V106.7H283.3 V106.0H284.8 V105.0H286.3 V105.7H287.8 V106.6H289.3 V105.7H290.8 V104.5H292.3 V104.2H293.8 V104.5H295.3 V103.5H296.8 V102.2H298.4 V99.7H299.9 V96.8H301.4 V96.5H302.9 V97.0H304.4 V97.3H305.9 V96.5H307.4 V93.7H308.9 V93.5H310.4 V91.0H311.9 V90.7H313.4 V92.1H314.9 V92.3H316.4 V90.9H317.9 V90.9H319.4 V89.0H320.9 V90.0H322.5 V91.3H324.0 V90.3H325.5 V87.5H327.0 V89.7H328.5 V88.2H330.0 V88.8H331.5 V90.0H333.0 V92.0H334.5 V92.9H336.0 V93.8H337.5 V93.5H339.0 V93.7H340.5 V94.2H342.0 V94.0H343.5 V94.9H345.0 V94.4H346.5 V96.6H348.1 V95.8H349.6 V97.1H351.1 V89.2H352.6 V88.1H354.1 V87.5H355.6 V87.8H357.1 V88.8H358.6 V88.9H360.1 V86.9H361.6 V85.6H363.1 V83.0H364.6 V81.1H366.1 V78.4H367.6 V78.4H369.1 V82.5H370.6 V80.5H372.1 V82.0H373.7 V82.1H375.2 V83.1H376.7 V81.2H378.2 V80.0H379.7 V80.2H381.2 V79.6H382.7 V79.4H384.2 V81.2H385.7 V76.2H387.2 V78.0H388.7 V78.7H390.2 V82.1H391.7 V84.0H393.2 V84.1H394.7 V84.8H396.2 V88.2H397.8 V90.9H399.3 V90.7H400.8 V92.1H402.3 V94.7H403.8 V96.8H405.3 V98.6H406.8 V99.2H408.3 V101.2H409.8 V102.3H411.3 V102.3H412.8 V102.1H414.3 V102.9H415.8 V99.4H417.3 V91.5H418.8 V82.5H420.3 V88.3H421.8 V92.7H422.6V108.2 Z"/></clipPath>
<path d="M272.0 108.2 V107.4H272.8 V105.2H274.3 V106.2H275.8 V107.1H277.3 V106.1H278.8 V105.0H280.3 V106.8H281.8 V106.7H283.3 V106.0H284.8 V105.0H286.3 V105.7H287.8 V106.6H289.3 V105.7H290.8 V104.5H292.3 V104.2H293.8 V104.5H295.3 V103.5H296.8 V102.2H298.4 V99.7H299.9 V96.8H301.4 V96.5H302.9 V97.0H304.4 V97.3H305.9 V96.5H307.4 V93.7H308.9 V93.5H310.4 V91.0H311.9 V90.7H313.4 V92.1H314.9 V92.3H316.4 V90.9H317.9 V90.9H319.4 V89.0H320.9 V90.0H322.5 V91.3H324.0 V90.3H325.5 V87.5H327.0 V89.7H328.5 V88.2H330.0 V88.8H331.5 V90.0H333.0 V92.0H334.5 V92.9H336.0 V93.8H337.5 V93.5H339.0 V93.7H340.5 V94.2H342.0 V94.0H343.5 V94.9H345.0 V94.4H346.5 V96.6H348.1 V95.8H349.6 V97.1H351.1 V89.2H352.6 V88.1H354.1 V87.5H355.6 V87.8H357.1 V88.8H358.6 V88.9H360.1 V86.9H361.6 V85.6H363.1 V83.0H364.6 V81.1H366.1 V78.4H367.6 V78.4H369.1 V82.5H370.6 V80.5H372.1 V82.0H373.7 V82.1H375.2 V83.1H376.7 V81.2H378.2 V80.0H379.7 V80.2H381.2 V79.6H382.7 V79.4H384.2 V81.2H385.7 V76.2H387.2 V78.0H388.7 V78.7H390.2 V82.1H391.7 V84.0H393.2 V84.1H394.7 V84.8H396.2 V88.2H397.8 V90.9H399.3 V90.7H400.8 V92.1H402.3 V94.7H403.8 V96.8H405.3 V98.6H406.8 V99.2H408.3 V101.2H409.8 V102.3H411.3 V102.3H412.8 V102.1H414.3 V102.9H415.8 V99.4H417.3 V91.5H418.8 V82.5H420.3 V88.3H421.8 V92.7H422.6V108.2 Z" fill="#000" stroke="#000" stroke-width="0.6"/>
<path d="M271.5 106.8H272.2 V90.4H273.8 V89.3H275.2 V88.5H276.8 V88.2H278.2 V87.9H279.8 V86.4H281.2 V85.2H282.8 V82.7H284.2 V82.3H285.8 V80.9H287.2 V81.6H288.8 V77.9H290.2 V76.8H291.8 V78.7H293.2 V82.6H294.8 V80.0H296.2 V73.7H297.8 V77.7H299.2 V82.1H300.8 V79.6H302.2 V74.1H303.8 V70.2H305.2 V71.4H306.8 V69.1H308.2 V69.5H309.8 V72.9H311.2 V73.6H312.8 V73.2H314.2 V71.3H315.8 V69.4H317.2 V69.4H318.8 V73.9H320.2 V78.9H321.8 V81.6H323.2 V77.5H324.8 V80.6H326.2 V81.3H327.8 V83.5H329.2 V86.1H330.8 V88.0H332.2 V90.0H333.8 V92.0H335.2 V94.4H336.8 V96.2H338.2 V98.0H339.8 V98.3H341.2 V99.4H342.8 V100.3H344.2 V99.8H345.8 V100.5H347.2 V101.3H348.8 V101.6H350.2 V101.3H351.8 V101.5H353.2 V101.3H354.8 V102.0H356.2 V101.1H357.8 V101.4H359.2 V101.0H360.8 V101.1H362.2 V101.4H363.8 V102.4H365.2 V102.3H366.8 V102.3H368.2 V103.0H369.8 V102.8H371.2 V102.5H372.8 V102.1H374.2 V102.6H375.8 V102.6H377.2 V102.1H378.0" fill="none" stroke="#fff" stroke-width="1.40" stroke-dasharray="1.5 2.2" clip-path="url(#c6)"/>
<path d="M266.2 40.1 H422.6 V112.7" fill="none" stroke="#000" stroke-width="1.20"/>
<path d="M271.7 40.1 V108.2 H422.6" fill="none" stroke="#000" stroke-width="1.90"/>
<path d="M266.2 108.2 H271.7" fill="none" stroke="#000" stroke-width="1.90"/>
<path d="M266.7 57.1 H271.7" stroke="#000" stroke-width="1.40"/>
<path d="M266.7 74.2 H271.7" stroke="#000" stroke-width="1.40"/>
<path d="M266.7 91.2 H271.7" stroke="#000" stroke-width="1.40"/>
<path d="M271.7 108.2 V112.7" stroke="#000" stroke-width="1.40"/>
<path d="M309.4 108.2 V112.7" stroke="#000" stroke-width="1.40"/>
<path d="M347.1 108.2 V112.7" stroke="#000" stroke-width="1.40"/>
<path d="M384.9 108.2 V112.7" stroke="#000" stroke-width="1.40"/>
<text x="259.9" y="45.1" font-family="Liberation Sans, Arial, Helvetica, sans-serif" font-weight="bold" stroke="#000" stroke-width="0.25" font-size="16.0" text-anchor="end">20</text>
<text x="259.9" y="114.4" font-family="Liberation Sans, Arial, Helvetica, sans-serif" font-weight="bold" stroke="#000" stroke-width="0.25" font-size="16.0" text-anchor="end">0</text>
<text x="259.9" y="79.6" font-family="Liberation Sans, Arial, Helvetica, sans-serif" font-weight="bold" stroke="#000" stroke-width="0.25" font-size="16.0" text-anchor="end">10</text>
<text x="259.8" y="132.8" font-family="Liberation Sans, Arial, Helvetica, sans-serif" font-weight="bold" stroke="#000" stroke-width="0.25" font-size="16.0">10</text>
<text transform="translate(277.8 128.4) scale(0.54)" font-family="Liberation Sans, Arial, Helvetica, sans-serif" font-weight="bold" stroke="#000" stroke-width="0.5" font-size="26">0</text>
<text x="297.5" y="132.8" font-family="Liberation Sans, Arial, Helvetica, sans-serif" font-weight="bold" stroke="#000" stroke-width="0.25" font-size="16.0">10</text>
<text transform="translate(315.5 128.4) scale(0.54)" font-family="Liberation Sans, Arial, Helvetica, sans-serif" font-weight="bold" stroke="#000" stroke-width="0.5" font-size="26">1</text>
<text x="335.2" y="132.8" font-family="Liberation Sans, Arial, Helvetica, sans-serif" font-weight="bold" stroke="#000" stroke-width="0.25" font-size="16.0">10</text>
<text transform="translate(353.2 128.4) scale(0.54)" font-family="Liberation Sans, Arial, Helvetica, sans-serif" font-weight="bold" stroke="#000" stroke-width="0.5" font-size="26">2</text>
<text x="373.0" y="132.8" font-family="Liberation Sans, Arial, Helvetica, sans-serif" font-weight="bold" stroke="#000" stroke-width="0.25" font-size="16.0">10</text>
<text transform="translate(391.0 128.4) scale(0.54)" font-family="Liberation Sans, Arial, Helvetica, sans-serif" font-weight="bold" stroke="#000" stroke-width="0.5" font-size="26">3</text>
<text x="410.7" y="132.8" font-family="Liberation Sans, Arial, Helvetica, sans-serif" font-weight="bold" stroke="#000" stroke-width="0.25" font-size="16.0">10</text>
<text transform="translate(428.7 128.4) scale(0.54)" font-family="Liberation Sans, Arial, Helvetica, sans-serif" font-weight="bold" stroke="#000" stroke-width="0.5" font-size="26">4</text>
<path d="M271.5 205.6H272.2 V189.7H273.8 V188.7H275.2 V187.5H276.8 V185.8H278.2 V181.1H279.8 V177.7H281.2 V175.8H282.8 V171.4H284.2 V167.5H285.8 V164.0H287.2 V161.5H288.8 V152.2H290.2 V153.2H291.8 V152.0H293.2 V152.0H294.8 V153.2H296.2 V151.7H297.8 V146.7H299.2 V146.2H300.8 V148.8H302.2 V147.9H303.8 V150.6H305.2 V165.5H306.8 V175.2H308.2 V184.2H309.8 V190.0H311.2 V196.6H312.8 V199.8H314.2 V201.8H315.8 V203.9H317.2 V205.7H318.8 V206.4H320.2 V207.2H321.8 V207.0H323.2 V207.5H324.8 V206.4H326.2 V205.6H327.8 V204.6H329.2 V204.7H330.8 V205.2H332.2 V206.0H333.8 V205.5H335.2 V206.3H336.8 V207.0H338.2 V207.5H339.8 V207.1H341.2 V207.4H342.8 V208.6H344.2 V209.0H345.8 V208.6H347.2 V208.2H348.8 V209.2H350.2 V208.7H351.8 V209.3H353.2 V209.1H354.8 V209.4H356.2 V208.8H357.8 V209.5H359.2 V209.0H360.0" fill="none" stroke="#000" stroke-width="2.00" stroke-linejoin="miter"/>
<clipPath id="c7"><path d="M271.5 212.1 V204.4H272.2 V200.8H273.7 V200.6H275.2 V200.5H276.7 V200.5H278.2 V199.8H279.7 V198.1H281.2 V196.3H282.7 V195.1H284.2 V193.7H285.7 V193.0H287.2 V189.4H288.7 V187.5H290.2 V183.5H291.7 V182.8H293.2 V181.7H294.7 V179.0H296.2 V173.7H297.7 V166.4H299.2 V164.3H300.7 V164.6H302.2 V162.6H303.7 V163.9H305.2 V168.5H306.7 V167.4H308.2 V168.0H309.6 V169.4H311.1 V173.5H312.6 V174.5H314.1 V179.4H315.6 V181.3H317.1 V184.5H318.6 V184.4H320.1 V185.5H321.6 V186.6H323.1 V188.0H324.6 V188.9H326.1 V188.6H327.6 V189.0H329.1 V190.5H330.6 V191.9H332.1 V192.8H333.6 V193.7H335.1 V194.7H336.6 V195.5H338.1 V195.7H339.6 V198.3H341.1 V197.8H342.6 V198.8H344.1 V199.0H345.6 V197.9H347.1 V195.4H348.5 V195.6H350.0 V196.4H351.5 V196.6H353.0 V198.1H354.5 V197.8H356.0 V197.7H357.5 V198.7H359.0 V200.6H360.5 V201.5H362.0 V203.1H363.5 V205.5H365.0 V206.3H366.5 V206.9H368.0 V206.4H369.5 V207.0H371.0 V207.4H372.5 V207.6H374.0 V207.8H375.5 V207.2H377.0 V207.6H378.5 V207.7H380.0 V207.9H381.5 V208.7H383.0 V208.6H384.5 V209.1H385.9 V208.9H387.4 V209.5H388.9 V209.3H390.4 V209.4H391.9 V210.0H393.4 V210.4H394.9 V210.0H396.4 V210.6H397.9 V210.9H399.4 V210.8H400.9 V210.9H402.4 V210.8H403.9 V210.9H405.4 V210.9H406.9 V211.2H408.4 V211.3H409.9 V211.0H411.4 V210.9H412.9 V211.2H414.4 V210.0H415.9 V210.0H417.4 V211.3H418.9 V211.3H420.4 V211.5H421.9 V211.5H422.6V212.1 Z"/></clipPath>
<path d="M271.5 212.1 V204.4H272.2 V200.8H273.7 V200.6H275.2 V200.5H276.7 V200.5H278.2 V199.8H279.7 V198.1H281.2 V196.3H282.7 V195.1H284.2 V193.7H285.7 V193.0H287.2 V189.4H288.7 V187.5H290.2 V183.5H291.7 V182.8H293.2 V181.7H294.7 V179.0H296.2 V173.7H297.7 V166.4H299.2 V164.3H300.7 V164.6H302.2 V162.6H303.7 V163.9H305.2 V168.5H306.7 V167.4H308.2 V168.0H309.6 V169.4H311.1 V173.5H312.6 V174.5H314.1 V179.4H315.6 V181.3H317.1 V184.5H318.6 V184.4H320.1 V185.5H321.6 V186.6H323.1 V188.0H324.6 V188.9H326.1 V188.6H327.6 V189.0H329.1 V190.5H330.6 V191.9H332.1 V192.8H333.6 V193.7H335.1 V194.7H336.6 V195.5H338.1 V195.7H339.6 V198.3H341.1 V197.8H342.6 V198.8H344.1 V199.0H345.6 V197.9H347.1 V195.4H348.5 V195.6H350.0 V196.4H351.5 V196.6H353.0 V198.1H354.5 V197.8H356.0 V197.7H357.5 V198.7H359.0 V200.6H360.5 V201.5H362.0 V203.1H363.5 V205.5H365.0 V206.3H366.5 V206.9H368.0 V206.4H369.5 V207.0H371.0 V207.4H372.5 V207.6H374.0 V207.8H375.5 V207.2H377.0 V207.6H378.5 V207.7H380.0 V207.9H381.5 V208.7H383.0 V208.6H384.5 V209.1H385.9 V208.9H387.4 V209.5H388.9 V209.3H390.4 V209.4H391.9 V210.0H393.4 V210.4H394.9 V210.0H396.4 V210.6H397.9 V210.9H399.4 V210.8H400.9 V210.9H402.4 V210.8H403.9 V210.9H405.4 V210.9H406.9 V211.2H408.4 V211.3H409.9 V211.0H411.4 V210.9H412.9 V211.2H414.4 V210.0H415.9 V210.0H417.4 V211.3H418.9 V211.3H420.4 V211.5H421.9 V211.5H422.6V212.1 Z" fill="#000" stroke="#000" stroke-width="0.6"/>
<path d="M271.5 205.6H272.2 V189.7H273.8 V188.7H275.2 V187.5H276.8 V185.8H278.2 V181.1H279.8 V177.7H281.2 V175.8H282.8 V171.4H284.2 V167.5H285.8 V164.0H287.2 V161.5H288.8 V152.2H290.2 V153.2H291.8 V152.0H293.2 V152.0H294.8 V153.2H296.2 V151.7H297.8 V146.7H299.2 V146.2H300.8 V148.8H302.2 V147.9H303.8 V150.6H305.2 V165.5H306.8 V175.2H308.2 V184.2H309.8 V190.0H311.2 V196.6H312.8 V199.8H314.2 V201.8H315.8 V203.9H317.2 V205.7H318.8 V206.4H320.2 V207.2H321.8 V207.0H323.2 V207.5H324.8 V206.4H326.2 V205.6H327.8 V204.6H329.2 V204.7H330.8 V205.2H332.2 V206.0H333.8 V205.5H335.2 V206.3H336.8 V207.0H338.2 V207.5H339.8 V207.1H341.2 V207.4H342.8 V208.6H344.2 V209.0H345.8 V208.6H347.2 V208.2H348.8 V209.2H350.2 V208.7H351.8 V209.3H353.2 V209.1H354.8 V209.4H356.2 V208.8H357.8 V209.5H359.2 V209.0H360.0" fill="none" stroke="#fff" stroke-width="1.50" stroke-dasharray="2.4 1.2" clip-path="url(#c7)"/>
<path d="M266.5 144.2 H422.7 V216.6" fill="none" stroke="#000" stroke-width="1.20"/>
<path d="M272.0 144.2 V212.1 H422.7" fill="none" stroke="#000" stroke-width="1.90"/>
<path d="M266.5 212.1 H272.0" fill="none" stroke="#000" stroke-width="1.90"/>
<path d="M267.0 157.8 H272.0" stroke="#000" stroke-width="1.40"/>
<path d="M267.0 171.4 H272.0" stroke="#000" stroke-width="1.40"/>
<path d="M267.0 184.9 H272.0" stroke="#000" stroke-width="1.40"/>
<path d="M267.0 198.5 H272.0" stroke="#000" stroke-width="1.40"/>
<path d="M272.0 212.1 V216.6" stroke="#000" stroke-width="1.40"/>
<path d="M309.7 212.1 V216.6" stroke="#000" stroke-width="1.40"/>
<path d="M347.4 212.1 V216.6" stroke="#000" stroke-width="1.40"/>
<path d="M385.0 212.1 V216.6" stroke="#000" stroke-width="1.40"/>
<text x="260.0" y="149.2" font-family="Liberation Sans, Arial, Helvetica, sans-serif" font-weight="bold" stroke="#000" stroke-width="0.25" font-size="16.0" text-anchor="end">50</text>
<text x="260.0" y="218.3" font-family="Liberation Sans, Arial, Helvetica, sans-serif" font-weight="bold" stroke="#000" stroke-width="0.25" font-size="16.0" text-anchor="end">0</text>
<text x="260.1" y="236.7" font-family="Liberation Sans, Arial, Helvetica, sans-serif" font-weight="bold" stroke="#000" stroke-width="0.25" font-size="16.0">10</text>
<text transform="translate(278.1 232.3) scale(0.54)" font-family="Liberation Sans, Arial, Helvetica, sans-serif" font-weight="bold" stroke="#000" stroke-width="0.5" font-size="26">0</text>
<text x="297.8" y="236.7" font-family="Liberation Sans, Arial, Helvetica, sans-serif" font-weight="bold" stroke="#000" stroke-width="0.25" font-size="16.0">10</text>
<text transform="translate(315.8 232.3) scale(0.54)" font-family="Liberation Sans, Arial, Helvetica, sans-serif" font-weight="bold" stroke="#000" stroke-width="0.5" font-size="26">1</text>
<text x="335.5" y="236.7" font-family="Liberation Sans, Arial, Helvetica, sans-serif" font-weight="bold" stroke="#000" stroke-width="0.25" font-size="16.0">10</text>
<text transform="translate(353.4 232.3) scale(0.54)" font-family="Liberation Sans, Arial, Helvetica, sans-serif" font-weight="bold" stroke="#000" stroke-width="0.5" font-size="26">2</text>
<text x="373.1" y="236.7" font-family="Liberation Sans, Arial, Helvetica, sans-serif" font-weight="bold" stroke="#000" stroke-width="0.25" font-size="16.0">10</text>
<text transform="translate(391.1 232.3) scale(0.54)" font-family="Liberation Sans, Arial, Helvetica, sans-serif" font-weight="bold" stroke="#000" stroke-width="0.5" font-size="26">3</text>
<text x="410.8" y="236.7" font-family="Liberation Sans, Arial, Helvetica, sans-serif" font-weight="bold" stroke="#000" stroke-width="0.25" font-size="16.0">10</text>
<text transform="translate(428.8 232.3) scale(0.54)" font-family="Liberation Sans, Arial, Helvetica, sans-serif" font-weight="bold" stroke="#000" stroke-width="0.5" font-size="26">4</text>
<path d="M277.0 312.1H277.8 V312.5H279.3 V312.9H280.8 V312.1H282.3 V312.1H283.8 V312.3H285.3 V312.0H286.8 V309.0H288.3 V312.0H289.8 V311.7H291.3 V312.3H292.8 V310.9H294.3 V308.5H295.8 V305.1H297.3 V303.2H298.9 V299.5H300.4 V297.2H301.9 V294.4H303.4 V290.8H304.9 V289.1H306.4 V284.7H307.9 V281.2H309.4 V278.7H310.9 V270.7H312.4 V269.9H313.9 V265.3H315.4 V262.6H316.9 V263.3H318.4 V258.8H320.0 V261.1H321.5 V256.6H323.0 V254.8H324.5 V267.4H326.0 V267.4H327.5 V267.6H329.0 V271.7H330.5 V269.7H332.0 V274.0H333.5 V272.6H335.0 V275.1H336.5 V280.5H338.0 V284.3H339.6 V288.6H341.1 V291.3H342.6 V294.0H344.1 V295.3H345.6 V296.7H347.1 V298.3H348.6 V298.5H350.1 V299.2H351.6 V300.8H353.1 V301.2H354.6 V302.9H356.1 V304.7H357.6 V305.2H359.1 V306.3H360.7 V307.8H362.2 V308.5H363.7 V309.3H365.2 V309.8H366.7 V310.8H368.2 V311.4H369.7 V311.5H371.2 V312.1H372.7 V312.2H374.2 V312.1H375.7 V313.2H377.2 V312.8H378.7 V312.9H380.2 V313.1H381.0" fill="none" stroke="#000" stroke-width="2.20" stroke-linejoin="miter"/>
<clipPath id="c8"><path d="M314.6 315.5 V315.0H315.4 V312.0H316.9 V311.9H318.4 V311.3H319.9 V311.1H321.4 V310.8H322.9 V310.5H324.4 V309.0H325.9 V305.5H327.4 V304.5H328.9 V304.5H330.4 V304.0H331.9 V302.0H333.4 V302.5H334.9 V302.4H336.4 V300.6H337.9 V301.8H339.4 V299.9H340.9 V300.6H342.5 V299.7H344.0 V299.0H345.5 V297.3H347.0 V296.6H348.5 V296.0H350.0 V294.6H351.5 V294.3H353.0 V292.1H354.5 V289.8H356.0 V284.8H357.5 V282.3H359.0 V278.8H360.5 V275.0H362.0 V276.0H363.5 V275.1H365.0 V272.2H366.5 V269.5H368.0 V270.0H369.6 V270.0H371.1 V270.4H372.6 V273.7H374.1 V272.5H375.6 V275.2H377.1 V275.9H378.6 V272.9H380.1 V275.8H381.6 V272.2H383.1 V275.5H384.6 V269.6H386.1 V272.8H387.6 V274.9H389.1 V281.2H390.6 V284.1H392.1 V289.4H393.6 V289.1H395.1 V294.2H396.7 V297.2H398.2 V298.7H399.7 V301.1H401.2 V300.3H402.7 V302.4H404.2 V302.0H405.7 V303.1H407.2 V303.2H408.7 V302.0H410.2 V303.4H411.7 V303.8H413.2 V302.2H414.7 V299.4H416.2 V296.5H417.7 V296.5H419.2 V296.0H420.7 V299.5H422.2 V295.5H423.0V315.5 Z"/></clipPath>
<path d="M314.6 315.5 V315.0H315.4 V312.0H316.9 V311.9H318.4 V311.3H319.9 V311.1H321.4 V310.8H322.9 V310.5H324.4 V309.0H325.9 V305.5H327.4 V304.5H328.9 V304.5H330.4 V304.0H331.9 V302.0H333.4 V302.5H334.9 V302.4H336.4 V300.6H337.9 V301.8H339.4 V299.9H340.9 V300.6H342.5 V299.7H344.0 V299.0H345.5 V297.3H347.0 V296.6H348.5 V296.0H350.0 V294.6H351.5 V294.3H353.0 V292.1H354.5 V289.8H356.0 V284.8H357.5 V282.3H359.0 V278.8H360.5 V275.0H362.0 V276.0H363.5 V275.1H365.0 V272.2H366.5 V269.5H368.0 V270.0H369.6 V270.0H371.1 V270.4H372.6 V273.7H374.1 V272.5H375.6 V275.2H377.1 V275.9H378.6 V272.9H380.1 V275.8H381.6 V272.2H383.1 V275.5H384.6 V269.6H386.1 V272.8H387.6 V274.9H389.1 V281.2H390.6 V284.1H392.1 V289.4H393.6 V289.1H395.1 V294.2H396.7 V297.2H398.2 V298.7H399.7 V301.1H401.2 V300.3H402.7 V302.4H404.2 V302.0H405.7 V303.1H407.2 V303.2H408.7 V302.0H410.2 V303.4H411.7 V303.8H413.2 V302.2H414.7 V299.4H416.2 V296.5H417.7 V296.5H419.2 V296.0H420.7 V299.5H422.2 V295.5H423.0V315.5 Z" fill="#000" stroke="#000" stroke-width="0.6"/>
<path d="M277.0 312.1H277.8 V312.5H279.3 V312.9H280.8 V312.1H282.3 V312.1H283.8 V312.3H285.3 V312.0H286.8 V309.0H288.3 V312.0H289.8 V311.7H291.3 V312.3H292.8 V310.9H294.3 V308.5H295.8 V305.1H297.3 V303.2H298.9 V299.5H300.4 V297.2H301.9 V294.4H303.4 V290.8H304.9 V289.1H306.4 V284.7H307.9 V281.2H309.4 V278.7H310.9 V270.7H312.4 V269.9H313.9 V265.3H315.4 V262.6H316.9 V263.3H318.4 V258.8H320.0 V261.1H321.5 V256.6H323.0 V254.8H324.5 V267.4H326.0 V267.4H327.5 V267.6H329.0 V271.7H330.5 V269.7H332.0 V274.0H333.5 V272.6H335.0 V275.1H336.5 V280.5H338.0 V284.3H339.6 V288.6H341.1 V291.3H342.6 V294.0H344.1 V295.3H345.6 V296.7H347.1 V298.3H348.6 V298.5H350.1 V299.2H351.6 V300.8H353.1 V301.2H354.6 V302.9H356.1 V304.7H357.6 V305.2H359.1 V306.3H360.7 V307.8H362.2 V308.5H363.7 V309.3H365.2 V309.8H366.7 V310.8H368.2 V311.4H369.7 V311.5H371.2 V312.1H372.7 V312.2H374.2 V312.1H375.7 V313.2H377.2 V312.8H378.7 V312.9H380.2 V313.1H381.0" fill="none" stroke="#fff" stroke-width="1.30" stroke-dasharray="2 1.2" clip-path="url(#c8)"/>
<path d="M266.5 248.0 H423.2 V320.0" fill="none" stroke="#000" stroke-width="1.20"/>
<path d="M272.0 248.0 V315.5 H423.2" fill="none" stroke="#000" stroke-width="1.90"/>
<path d="M266.5 315.5 H272.0" fill="none" stroke="#000" stroke-width="1.90"/>
<path d="M267.0 264.9 H272.0" stroke="#000" stroke-width="1.40"/>
<path d="M267.0 281.8 H272.0" stroke="#000" stroke-width="1.40"/>
<path d="M267.0 298.6 H272.0" stroke="#000" stroke-width="1.40"/>
<path d="M272.0 315.5 V320.0" stroke="#000" stroke-width="1.40"/>
<path d="M309.8 315.5 V320.0" stroke="#000" stroke-width="1.40"/>
<path d="M347.6 315.5 V320.0" stroke="#000" stroke-width="1.40"/>
<path d="M385.4 315.5 V320.0" stroke="#000" stroke-width="1.40"/>
<text x="260.0" y="253.0" font-family="Liberation Sans, Arial, Helvetica, sans-serif" font-weight="bold" stroke="#000" stroke-width="0.25" font-size="16.0" text-anchor="end">20</text>
<text x="260.0" y="321.7" font-family="Liberation Sans, Arial, Helvetica, sans-serif" font-weight="bold" stroke="#000" stroke-width="0.25" font-size="16.0" text-anchor="end">0</text>
<text x="260.0" y="287.1" font-family="Liberation Sans, Arial, Helvetica, sans-serif" font-weight="bold" stroke="#000" stroke-width="0.25" font-size="16.0" text-anchor="end">10</text>
<text x="260.1" y="340.1" font-family="Liberation Sans, Arial, Helvetica, sans-serif" font-weight="bold" stroke="#000" stroke-width="0.25" font-size="16.0">10</text>
<text transform="translate(278.1 335.7) scale(0.54)" font-family="Liberation Sans, Arial, Helvetica, sans-serif" font-weight="bold" stroke="#000" stroke-width="0.5" font-size="26">0</text>
<text x="297.9" y="340.1" font-family="Liberation Sans, Arial, Helvetica, sans-serif" font-weight="bold" stroke="#000" stroke-width="0.25" font-size="16.0">10</text>
<text transform="translate(315.9 335.7) scale(0.54)" font-family="Liberation Sans, Arial, Helvetica, sans-serif" font-weight="bold" stroke="#000" stroke-width="0.5" font-size="26">1</text>
<text x="335.7" y="340.1" font-family="Liberation Sans, Arial, Helvetica, sans-serif" font-weight="bold" stroke="#000" stroke-width="0.25" font-size="16.0">10</text>
<text transform="translate(353.7 335.7) scale(0.54)" font-family="Liberation Sans, Arial, Helvetica, sans-serif" font-weight="bold" stroke="#000" stroke-width="0.5" font-size="26">2</text>
<text x="373.5" y="340.1" font-family="Liberation Sans, Arial, Helvetica, sans-serif" font-weight="bold" stroke="#000" stroke-width="0.25" font-size="16.0">10</text>
<text transform="translate(391.5 335.7) scale(0.54)" font-family="Liberation Sans, Arial, Helvetica, sans-serif" font-weight="bold" stroke="#000" stroke-width="0.5" font-size="26">3</text>
<text x="411.3" y="340.1" font-family="Liberation Sans, Arial, Helvetica, sans-serif" font-weight="bold" stroke="#000" stroke-width="0.25" font-size="16.0">10</text>
<text transform="translate(429.3 335.7) scale(0.54)" font-family="Liberation Sans, Arial, Helvetica, sans-serif" font-weight="bold" stroke="#000" stroke-width="0.5" font-size="26">4</text>
<path d="M271.2 519.8H271.9 V503.0H273.4 V514.0H274.9 V507.2H276.4 V504.1H277.9 V496.3H279.4 V489.1H280.9 V483.1H282.4 V481.4H283.8 V479.6H285.3 V479.0H286.8 V480.0H288.3 V480.8H289.8 V478.8H291.3 V480.6H292.8 V479.7H294.3 V482.1H295.7 V484.1H297.2 V487.8H298.7 V490.9H300.2 V493.4H301.7 V495.6H303.2 V499.8H304.7 V502.6H306.2 V506.2H307.6 V509.8H309.1 V511.4H310.6 V512.8H312.1 V513.7H313.6 V516.7H315.1 V519.2H316.6 V520.4H318.1 V520.3H319.6 V520.5H321.0 V520.2H322.5 V520.6H324.0 V520.5H325.5 V520.3H327.0 V520.3H328.5 V520.9H330.0 V520.5H331.5 V521.6H332.9 V521.0H334.4 V521.0H335.9 V521.1H337.4 V521.9H338.9 V521.3H340.4 V521.1H341.9 V521.0H343.4 V521.0H344.8 V521.7H346.3 V521.7H347.8 V521.9H349.3 V522.0H350.8 V521.4H352.3 V522.0H353.8 V521.8H355.3 V522.3H356.0" fill="none" stroke="#000" stroke-width="1.50" stroke-linejoin="miter"/>
<clipPath id="c9"><path d="M317.0 524.2 V523.5H317.8 V523.2H319.2 V522.5H320.8 V521.6H322.2 V521.1H323.8 V520.6H325.2 V520.8H326.8 V520.2H328.2 V519.1H329.8 V518.3H331.2 V516.5H332.8 V515.0H334.2 V512.8H335.8 V510.1H337.2 V509.5H338.8 V507.0H340.2 V506.5H341.8 V504.6H343.2 V498.7H344.8 V493.3H346.2 V490.8H347.8 V484.4H349.2 V481.5H350.8 V477.7H352.2 V469.5H353.8 V465.1H355.2 V461.3H356.8 V463.1H358.2 V465.9H359.8 V466.1H361.2 V460.8H362.8 V461.3H364.2 V468.8H365.8 V474.7H367.2 V483.2H368.8 V489.4H370.2 V496.1H371.8 V501.4H373.2 V508.6H374.8 V513.2H376.2 V517.1H377.8 V519.3H379.2 V520.5H380.8 V520.8H382.2 V521.3H383.8 V522.2H385.2 V523.5H386.0V524.2 Z"/></clipPath>
<path d="M317.0 524.2 V523.5H317.8 V523.2H319.2 V522.5H320.8 V521.6H322.2 V521.1H323.8 V520.6H325.2 V520.8H326.8 V520.2H328.2 V519.1H329.8 V518.3H331.2 V516.5H332.8 V515.0H334.2 V512.8H335.8 V510.1H337.2 V509.5H338.8 V507.0H340.2 V506.5H341.8 V504.6H343.2 V498.7H344.8 V493.3H346.2 V490.8H347.8 V484.4H349.2 V481.5H350.8 V477.7H352.2 V469.5H353.8 V465.1H355.2 V461.3H356.8 V463.1H358.2 V465.9H359.8 V466.1H361.2 V460.8H362.8 V461.3H364.2 V468.8H365.8 V474.7H367.2 V483.2H368.8 V489.4H370.2 V496.1H371.8 V501.4H373.2 V508.6H374.8 V513.2H376.2 V517.1H377.8 V519.3H379.2 V520.5H380.8 V520.8H382.2 V521.3H383.8 V522.2H385.2 V523.5H386.0V524.2 Z" fill="#000" stroke="#000" stroke-width="0.6"/>
<path d="M271.2 519.8H271.9 V503.0H273.4 V514.0H274.9 V507.2H276.4 V504.1H277.9 V496.3H279.4 V489.1H280.9 V483.1H282.4 V481.4H283.8 V479.6H285.3 V479.0H286.8 V480.0H288.3 V480.8H289.8 V478.8H291.3 V480.6H292.8 V479.7H294.3 V482.1H295.7 V484.1H297.2 V487.8H298.7 V490.9H300.2 V493.4H301.7 V495.6H303.2 V499.8H304.7 V502.6H306.2 V506.2H307.6 V509.8H309.1 V511.4H310.6 V512.8H312.1 V513.7H313.6 V516.7H315.1 V519.2H316.6 V520.4H318.1 V520.3H319.6 V520.5H321.0 V520.2H322.5 V520.6H324.0 V520.5H325.5 V520.3H327.0 V520.3H328.5 V520.9H330.0 V520.5H331.5 V521.6H332.9 V521.0H334.4 V521.0H335.9 V521.1H337.4 V521.9H338.9 V521.3H340.4 V521.1H341.9 V521.0H343.4 V521.0H344.8 V521.7H346.3 V521.7H347.8 V521.9H349.3 V522.0H350.8 V521.4H352.3 V522.0H353.8 V521.8H355.3 V522.3H356.0" fill="none" stroke="#fff" stroke-width="1.30" stroke-dasharray="2 1.2" clip-path="url(#c9)"/>
<path d="M266.6 456.7 H423.0 V528.7" fill="none" stroke="#000" stroke-width="1.20"/>
<path d="M272.1 456.7 V524.2 H423.0" fill="none" stroke="#000" stroke-width="1.90"/>
<path d="M266.6 524.2 H272.1" fill="none" stroke="#000" stroke-width="1.90"/>
<path d="M267.1 470.2 H272.1" stroke="#000" stroke-width="1.40"/>
<path d="M267.1 483.7 H272.1" stroke="#000" stroke-width="1.40"/>
<path d="M267.1 497.2 H272.1" stroke="#000" stroke-width="1.40"/>
<path d="M267.1 510.7 H272.1" stroke="#000" stroke-width="1.40"/>
<path d="M272.1 524.2 V528.7" stroke="#000" stroke-width="1.40"/>
<path d="M309.8 524.2 V528.7" stroke="#000" stroke-width="1.40"/>
<path d="M347.6 524.2 V528.7" stroke="#000" stroke-width="1.40"/>
<path d="M385.3 524.2 V528.7" stroke="#000" stroke-width="1.40"/>
<text x="260.2" y="461.7" font-family="Liberation Sans, Arial, Helvetica, sans-serif" font-weight="bold" stroke="#000" stroke-width="0.25" font-size="16.0" text-anchor="end">25</text>
<text x="260.2" y="530.4" font-family="Liberation Sans, Arial, Helvetica, sans-serif" font-weight="bold" stroke="#000" stroke-width="0.25" font-size="16.0" text-anchor="end">0</text>
<text x="260.2" y="548.8" font-family="Liberation Sans, Arial, Helvetica, sans-serif" font-weight="bold" stroke="#000" stroke-width="0.25" font-size="16.0">10</text>
<text transform="translate(278.2 544.4) scale(0.54)" font-family="Liberation Sans, Arial, Helvetica, sans-serif" font-weight="bold" stroke="#000" stroke-width="0.5" font-size="26">0</text>
<text x="297.9" y="548.8" font-family="Liberation Sans, Arial, Helvetica, sans-serif" font-weight="bold" stroke="#000" stroke-width="0.25" font-size="16.0">10</text>
<text transform="translate(315.9 544.4) scale(0.54)" font-family="Liberation Sans, Arial, Helvetica, sans-serif" font-weight="bold" stroke="#000" stroke-width="0.5" font-size="26">1</text>
<text x="335.7" y="548.8" font-family="Liberation Sans, Arial, Helvetica, sans-serif" font-weight="bold" stroke="#000" stroke-width="0.25" font-size="16.0">10</text>
<text transform="translate(353.6 544.4) scale(0.54)" font-family="Liberation Sans, Arial, Helvetica, sans-serif" font-weight="bold" stroke="#000" stroke-width="0.5" font-size="26">2</text>
<text x="373.4" y="548.8" font-family="Liberation Sans, Arial, Helvetica, sans-serif" font-weight="bold" stroke="#000" stroke-width="0.25" font-size="16.0">10</text>
<text transform="translate(391.4 544.4) scale(0.54)" font-family="Liberation Sans, Arial, Helvetica, sans-serif" font-weight="bold" stroke="#000" stroke-width="0.5" font-size="26">3</text>
<text x="411.1" y="548.8" font-family="Liberation Sans, Arial, Helvetica, sans-serif" font-weight="bold" stroke="#000" stroke-width="0.25" font-size="16.0">10</text>
<text transform="translate(429.1 544.4) scale(0.54)" font-family="Liberation Sans, Arial, Helvetica, sans-serif" font-weight="bold" stroke="#000" stroke-width="0.5" font-size="26">4</text>
<path d="M73.5 707.0H74.0 V707.9H75.0 V707.4H76.0 V705.5H77.0 V707.4H78.0 V707.7H79.0 V706.0H80.0 V706.0H81.0 V707.7H82.0 V707.7H83.0 V706.0H84.0 V706.0H85.0 V707.1H86.0 V706.5H87.0 V704.5H88.0 V705.5H89.0 V705.2H90.0 V703.8H91.0 V702.5H92.0 V701.4H93.0 V700.3H94.0 V696.7H95.0 V692.2H96.0 V687.3H97.0 V681.8H98.0 V676.4H99.0 V669.6H100.0 V662.0H101.0 V655.4H102.0 V653.0H103.0 V652.2H104.0 V649.6H105.0 V647.3H106.0 V659.3H107.0 V670.0H108.0 V680.0H109.0 V689.4H110.0 V695.0H111.0 V697.0H112.0 V698.6H113.0 V699.7H114.0 V701.2H115.0 V702.7H116.0 V704.0H117.0 V704.9H118.0 V705.8H119.0 V706.8H120.0 V707.8H121.0 V708.3H122.0 V709.0H122.5" fill="none" stroke="#000" stroke-width="1.35" stroke-linejoin="miter"/>
<clipPath id="c10"><path d="M95.0 709.0 V708.7H95.5 V707.9H96.5 V706.2H97.5 V705.8H98.5 V704.9H99.5 V704.1H100.6 V702.7H101.6 V702.1H102.6 V701.3H103.6 V700.6H104.6 V700.8H105.6 V700.3H106.6 V699.8H107.6 V699.2H108.6 V698.1H109.6 V696.9H110.6 V695.8H111.7 V695.1H112.7 V695.0H113.7 V693.9H114.7 V693.5H115.7 V693.1H116.7 V692.2H117.7 V691.6H118.7 V690.8H119.7 V690.4H120.7 V689.0H121.7 V687.7H122.8 V687.2H123.8 V685.6H124.8 V685.4H125.8 V684.3H126.8 V682.9H127.8 V683.0H128.8 V682.5H129.8 V683.7H130.8 V684.1H131.8 V685.7H132.8 V686.7H133.9 V687.6H134.9 V689.8H135.9 V690.7H136.9 V693.1H137.9 V694.3H138.9 V696.0H139.9 V697.8H140.9 V699.7H141.9 V701.3H142.9 V702.1H143.9 V704.1H145.0 V705.5H146.0 V706.7H147.0 V707.2H148.0 V708.1H149.0 V708.8H149.5V709.0 Z"/></clipPath>
<path d="M95.0 709.0 V708.7H95.5 V707.9H96.5 V706.2H97.5 V705.8H98.5 V704.9H99.5 V704.1H100.6 V702.7H101.6 V702.1H102.6 V701.3H103.6 V700.6H104.6 V700.8H105.6 V700.3H106.6 V699.8H107.6 V699.2H108.6 V698.1H109.6 V696.9H110.6 V695.8H111.7 V695.1H112.7 V695.0H113.7 V693.9H114.7 V693.5H115.7 V693.1H116.7 V692.2H117.7 V691.6H118.7 V690.8H119.7 V690.4H120.7 V689.0H121.7 V687.7H122.8 V687.2H123.8 V685.6H124.8 V685.4H125.8 V684.3H126.8 V682.9H127.8 V683.0H128.8 V682.5H129.8 V683.7H130.8 V684.1H131.8 V685.7H132.8 V686.7H133.9 V687.6H134.9 V689.8H135.9 V690.7H136.9 V693.1H137.9 V694.3H138.9 V696.0H139.9 V697.8H140.9 V699.7H141.9 V701.3H142.9 V702.1H143.9 V704.1H145.0 V705.5H146.0 V706.7H147.0 V707.2H148.0 V708.1H149.0 V708.8H149.5V709.0 Z" fill="#000" stroke="#000" stroke-width="0.6"/>
<path d="M73.5 707.0H74.0 V707.9H75.0 V707.4H76.0 V705.5H77.0 V707.4H78.0 V707.7H79.0 V706.0H80.0 V706.0H81.0 V707.7H82.0 V707.7H83.0 V706.0H84.0 V706.0H85.0 V707.1H86.0 V706.5H87.0 V704.5H88.0 V705.5H89.0 V705.2H90.0 V703.8H91.0 V702.5H92.0 V701.4H93.0 V700.3H94.0 V696.7H95.0 V692.2H96.0 V687.3H97.0 V681.8H98.0 V676.4H99.0 V669.6H100.0 V662.0H101.0 V655.4H102.0 V653.0H103.0 V652.2H104.0 V649.6H105.0 V647.3H106.0 V659.3H107.0 V670.0H108.0 V680.0H109.0 V689.4H110.0 V695.0H111.0 V697.0H112.0 V698.6H113.0 V699.7H114.0 V701.2H115.0 V702.7H116.0 V704.0H117.0 V704.9H118.0 V705.8H119.0 V706.8H120.0 V707.8H121.0 V708.3H122.0 V709.0H122.5" fill="none" stroke="#fff" stroke-width="1.00" stroke-dasharray="20 0" clip-path="url(#c10)"/>
<path d="M67.5 643.2 H223.9 V713.5" fill="none" stroke="#000" stroke-width="1.05"/>
<path d="M73.0 643.2 V709.0 H223.9" fill="none" stroke="#000" stroke-width="1.30"/>
<path d="M67.5 709.0 H73.0" fill="none" stroke="#000" stroke-width="1.30"/>
<path d="M68.0 656.4 H73.0" stroke="#000" stroke-width="1.15"/>
<path d="M68.0 669.5 H73.0" stroke="#000" stroke-width="1.15"/>
<path d="M68.0 682.7 H73.0" stroke="#000" stroke-width="1.15"/>
<path d="M68.0 695.8 H73.0" stroke="#000" stroke-width="1.15"/>
<path d="M73.0 709.0 V713.5" stroke="#000" stroke-width="1.15"/>
<path d="M110.7 709.0 V713.5" stroke="#000" stroke-width="1.15"/>
<path d="M148.4 709.0 V713.5" stroke="#000" stroke-width="1.15"/>
<path d="M186.2 709.0 V713.5" stroke="#000" stroke-width="1.15"/>
<text x="62.7" y="648.4" font-family="Liberation Sans, Arial, Helvetica, sans-serif" font-weight="bold" stroke="#000" stroke-width="0.25" font-size="16.0" text-anchor="end">150</text>
<path d="M74.6 783.1H75.1 V778.7H76.1 V776.0H77.1 V774.1H78.1 V772.3H79.1 V770.3H80.1 V769.4H81.1 V768.9H82.1 V767.9H83.1 V767.4H84.1 V767.3H85.1 V766.9H86.1 V766.6H87.1 V766.2H88.1 V766.4H89.1 V766.6H90.1 V766.9H91.1 V767.0H92.1 V767.4H93.1 V767.7H94.1 V767.6H95.1 V768.5H96.1 V769.2H97.1 V769.7H98.1 V770.4H99.1 V771.5H100.1 V772.0H101.1 V773.3H102.1 V774.1H103.1 V775.5H104.1 V776.7H105.1 V777.7H106.1 V778.6H107.1 V780.0H108.1 V781.2H109.1 V782.7H110.1 V783.9H111.1 V785.4H112.1 V786.5H113.1 V786.7H114.1 V787.0H115.1 V787.7H116.1 V787.7H117.1 V788.2H118.1 V788.4H119.1 V789.0H120.1 V788.8H121.1 V789.4H122.1 V789.3H123.1 V789.3H124.1 V789.6H125.1 V789.8H126.1 V789.6H127.1 V789.8H128.1 V789.8H129.1 V790.0H130.1 V789.8H131.1 V789.8H132.0 V789.8H133.0 V790.1H134.0 V790.2H135.0 V790.0H136.0 V789.9H137.0 V790.2H138.0 V790.0H139.0 V789.9H140.0 V789.9H141.0 V790.3H142.0 V790.3H143.0 V790.2H144.0 V790.1H145.0 V790.2H146.0 V790.0H147.0 V790.4H148.0 V790.1H149.0 V790.3H150.0 V790.4H151.0 V790.4H152.0 V790.2H153.0 V790.1H154.0 V790.3H155.0 V790.1H156.0 V790.4H157.0 V790.2H158.0 V790.5H159.0 V790.2H160.0 V790.2H161.0 V790.1H162.0 V790.2H163.0 V790.0H164.0 V789.9H165.0 V790.3H166.0 V790.0H167.0 V790.0H168.0 V790.0H169.0 V790.0H170.0 V790.0H171.0 V790.1H172.0 V790.0H173.0 V789.9H174.0 V789.9H175.0 V789.9H176.0 V789.7H177.0 V790.1H178.0 V790.2H179.0 V790.2H180.0 V789.9H181.0 V790.2H182.0 V790.1H183.0 V789.9H184.0 V789.9H185.0 V790.4H186.0 V790.3H187.0 V790.1H187.5" fill="none" stroke="#000" stroke-width="1.30" stroke-linejoin="miter" stroke-dasharray="2.5 1.1"/>
<clipPath id="c11"><path d="M74.3 791.4 V790.3H74.8 V781.1H75.8 V778.3H76.8 V776.5H77.8 V775.7H78.9 V775.0H79.9 V773.9H80.9 V773.4H81.9 V772.6H82.9 V772.9H83.9 V772.3H84.9 V771.2H85.9 V772.0H86.9 V770.9H88.0 V771.2H89.0 V771.9H90.0 V771.2H91.0 V771.5H92.0 V771.3H93.0 V771.0H94.0 V771.6H95.0 V771.3H96.1 V772.3H97.1 V773.5H98.1 V774.3H99.1 V775.9H100.1 V777.4H101.1 V778.5H102.1 V779.5H103.1 V780.8H104.2 V781.7H105.2 V782.5H106.2 V783.9H107.2 V784.7H108.2 V786.0H109.2 V786.9H110.2 V787.2H111.2 V788.0H112.2 V788.8H113.3 V789.2H114.3 V789.6H115.3 V790.6H116.3 V791.1H116.8V791.4 Z"/></clipPath>
<path d="M74.3 791.4 V790.3H74.8 V781.1H75.8 V778.3H76.8 V776.5H77.8 V775.7H78.9 V775.0H79.9 V773.9H80.9 V773.4H81.9 V772.6H82.9 V772.9H83.9 V772.3H84.9 V771.2H85.9 V772.0H86.9 V770.9H88.0 V771.2H89.0 V771.9H90.0 V771.2H91.0 V771.5H92.0 V771.3H93.0 V771.0H94.0 V771.6H95.0 V771.3H96.1 V772.3H97.1 V773.5H98.1 V774.3H99.1 V775.9H100.1 V777.4H101.1 V778.5H102.1 V779.5H103.1 V780.8H104.2 V781.7H105.2 V782.5H106.2 V783.9H107.2 V784.7H108.2 V786.0H109.2 V786.9H110.2 V787.2H111.2 V788.0H112.2 V788.8H113.3 V789.2H114.3 V789.6H115.3 V790.6H116.3 V791.1H116.8V791.4 Z" fill="#000" stroke="#000" stroke-width="0.6"/>
<path d="M74.6 783.1H75.1 V778.7H76.1 V776.0H77.1 V774.1H78.1 V772.3H79.1 V770.3H80.1 V769.4H81.1 V768.9H82.1 V767.9H83.1 V767.4H84.1 V767.3H85.1 V766.9H86.1 V766.6H87.1 V766.2H88.1 V766.4H89.1 V766.6H90.1 V766.9H91.1 V767.0H92.1 V767.4H93.1 V767.7H94.1 V767.6H95.1 V768.5H96.1 V769.2H97.1 V769.7H98.1 V770.4H99.1 V771.5H100.1 V772.0H101.1 V773.3H102.1 V774.1H103.1 V775.5H104.1 V776.7H105.1 V777.7H106.1 V778.6H107.1 V780.0H108.1 V781.2H109.1 V782.7H110.1 V783.9H111.1 V785.4H112.1 V786.5H113.1 V786.7H114.1 V787.0H115.1 V787.7H116.1 V787.7H117.1 V788.2H118.1 V788.4H119.1 V789.0H120.1 V788.8H121.1 V789.4H122.1 V789.3H123.1 V789.3H124.1 V789.6H125.1 V789.8H126.1 V789.6H127.1 V789.8H128.1 V789.8H129.1 V790.0H130.1 V789.8H131.1 V789.8H132.0 V789.8H133.0 V790.1H134.0 V790.2H135.0 V790.0H136.0 V789.9H137.0 V790.2H138.0 V790.0H139.0 V789.9H140.0 V789.9H141.0 V790.3H142.0 V790.3H143.0 V790.2H144.0 V790.1H145.0 V790.2H146.0 V790.0H147.0 V790.4H148.0 V790.1H149.0 V790.3H150.0 V790.4H151.0 V790.4H152.0 V790.2H153.0 V790.1H154.0 V790.3H155.0 V790.1H156.0 V790.4H157.0 V790.2H158.0 V790.5H159.0 V790.2H160.0 V790.2H161.0 V790.1H162.0 V790.2H163.0 V790.0H164.0 V789.9H165.0 V790.3H166.0 V790.0H167.0 V790.0H168.0 V790.0H169.0 V790.0H170.0 V790.0H171.0 V790.1H172.0 V790.0H173.0 V789.9H174.0 V789.9H175.0 V789.9H176.0 V789.7H177.0 V790.1H178.0 V790.2H179.0 V790.2H180.0 V789.9H181.0 V790.2H182.0 V790.1H183.0 V789.9H184.0 V789.9H185.0 V790.4H186.0 V790.3H187.0 V790.1H187.5" fill="none" stroke="#fff" stroke-width="1.00" stroke-dasharray="1.5 1" clip-path="url(#c11)"/>
<path d="M67.5 723.6 H223.9 V795.9" fill="none" stroke="#000" stroke-width="1.05"/>
<path d="M73.0 723.6 V791.4 H223.9" fill="none" stroke="#000" stroke-width="1.30"/>
<path d="M67.5 791.4 H73.0" fill="none" stroke="#000" stroke-width="1.30"/>
<path d="M68.0 737.2 H73.0" stroke="#000" stroke-width="1.15"/>
<path d="M68.0 750.7 H73.0" stroke="#000" stroke-width="1.15"/>
<path d="M68.0 764.3 H73.0" stroke="#000" stroke-width="1.15"/>
<path d="M68.0 777.8 H73.0" stroke="#000" stroke-width="1.15"/>
<path d="M73.0 791.4 V795.9" stroke="#000" stroke-width="1.15"/>
<path d="M110.7 791.4 V795.9" stroke="#000" stroke-width="1.15"/>
<path d="M148.4 791.4 V795.9" stroke="#000" stroke-width="1.15"/>
<path d="M186.2 791.4 V795.9" stroke="#000" stroke-width="1.15"/>
<text x="62.7" y="728.6" font-family="Liberation Sans, Arial, Helvetica, sans-serif" font-weight="bold" stroke="#000" stroke-width="0.25" font-size="16.0" text-anchor="end">150</text>
<text x="62.7" y="795.2" font-family="Liberation Sans, Arial, Helvetica, sans-serif" font-weight="bold" stroke="#000" stroke-width="0.25" font-size="16.0" text-anchor="end">0</text>
<text x="59.3" y="815.3" font-family="Liberation Sans, Arial, Helvetica, sans-serif" font-weight="bold" stroke="#000" stroke-width="0.25" font-size="16.0">10</text>
<text transform="translate(77.3 810.9) scale(0.54)" font-family="Liberation Sans, Arial, Helvetica, sans-serif" font-weight="bold" stroke="#000" stroke-width="0.5" font-size="26">0</text>
<text x="97.0" y="815.3" font-family="Liberation Sans, Arial, Helvetica, sans-serif" font-weight="bold" stroke="#000" stroke-width="0.25" font-size="16.0">10</text>
<text transform="translate(115.0 810.9) scale(0.54)" font-family="Liberation Sans, Arial, Helvetica, sans-serif" font-weight="bold" stroke="#000" stroke-width="0.5" font-size="26">1</text>
<text x="134.8" y="815.3" font-family="Liberation Sans, Arial, Helvetica, sans-serif" font-weight="bold" stroke="#000" stroke-width="0.25" font-size="16.0">10</text>
<text transform="translate(152.7 810.9) scale(0.54)" font-family="Liberation Sans, Arial, Helvetica, sans-serif" font-weight="bold" stroke="#000" stroke-width="0.5" font-size="26">2</text>
<text x="172.5" y="815.3" font-family="Liberation Sans, Arial, Helvetica, sans-serif" font-weight="bold" stroke="#000" stroke-width="0.25" font-size="16.0">10</text>
<text transform="translate(190.5 810.9) scale(0.54)" font-family="Liberation Sans, Arial, Helvetica, sans-serif" font-weight="bold" stroke="#000" stroke-width="0.5" font-size="26">3</text>
<text x="210.2" y="815.3" font-family="Liberation Sans, Arial, Helvetica, sans-serif" font-weight="bold" stroke="#000" stroke-width="0.25" font-size="16.0">10</text>
<text transform="translate(228.2 810.9) scale(0.54)" font-family="Liberation Sans, Arial, Helvetica, sans-serif" font-weight="bold" stroke="#000" stroke-width="0.5" font-size="26">4</text>
<text x="1.0" y="13.7" font-family="Liberation Sans, Arial, Helvetica, sans-serif" font-weight="bold" stroke="#000" stroke-width="0.25" font-size="17.5" text-anchor="start" >A</text>
<text x="9.0" y="617.5" font-family="Liberation Sans, Arial, Helvetica, sans-serif" font-weight="bold" stroke="#000" stroke-width="0.25" font-size="17.5" text-anchor="start" >B</text>
<text x="221.5" y="13.0" font-family="Liberation Sans, Arial, Helvetica, sans-serif" font-weight="bold" stroke="#000" stroke-width="0.25" font-size="15.6" text-anchor="start" textLength="42.0" lengthAdjust="spacingAndGlyphs" >HHV8</text>
<text x="435.0" y="78.9" font-family="Liberation Sans, Arial, Helvetica, sans-serif" font-weight="bold" stroke="#000" stroke-width="0.25" font-size="15.6" text-anchor="start" textLength="54.3" lengthAdjust="spacingAndGlyphs" >B Cells</text>
<text x="435.6" y="183.9" font-family="Liberation Sans, Arial, Helvetica, sans-serif" font-weight="bold" stroke="#000" stroke-width="0.25" font-size="15.6" text-anchor="start" textLength="51.5" lengthAdjust="spacingAndGlyphs" >T Cells</text>
<text x="435.8" y="286.4" font-family="Liberation Sans, Arial, Helvetica, sans-serif" font-weight="bold" stroke="#000" stroke-width="0.25" font-size="15.6" text-anchor="start" textLength="85.3" lengthAdjust="spacingAndGlyphs" >Monocytes</text>
<text x="435.8" y="391.2" font-family="Liberation Sans, Arial, Helvetica, sans-serif" font-weight="bold" stroke="#000" stroke-width="0.25" font-size="15.6" text-anchor="start" textLength="65.0" lengthAdjust="spacingAndGlyphs" >NK Cells</text>
<text x="337.5" y="391.7" font-family="Liberation Sans, Arial, Helvetica, sans-serif" font-weight="bold" stroke="#000" stroke-width="0.25" font-size="15.6" text-anchor="start" textLength="22.0" lengthAdjust="spacingAndGlyphs" >ND</text>
<text x="124.6" y="571.2" font-family="Liberation Sans, Arial, Helvetica, sans-serif" font-weight="bold" stroke="#000" stroke-width="0.25" font-size="15.6" text-anchor="start" textLength="26.6" lengthAdjust="spacingAndGlyphs" >293</text>
<text x="316.4" y="571.1" font-family="Liberation Sans, Arial, Helvetica, sans-serif" font-weight="bold" stroke="#000" stroke-width="0.25" font-size="15.6" text-anchor="start" textLength="64.0" lengthAdjust="spacingAndGlyphs" >fMVDEC</text>
<text x="174.0" y="593.9" font-family="Liberation Sans, Arial, Helvetica, sans-serif" font-weight="bold" stroke="#000" stroke-width="0.25" font-size="15.6" text-anchor="start" textLength="137.0" lengthAdjust="spacingAndGlyphs" >Log Fluorescence</text>
<text x="131.0" y="617.0" font-family="Liberation Sans, Arial, Helvetica, sans-serif" font-weight="bold" stroke="#000" stroke-width="0.25" font-size="15.6" text-anchor="start" textLength="33.0" lengthAdjust="spacingAndGlyphs" >EBV</text>
<text x="235.0" y="683.0" font-family="Liberation Sans, Arial, Helvetica, sans-serif" font-weight="bold" stroke="#000" stroke-width="0.25" font-size="15.6" text-anchor="start" textLength="54.3" lengthAdjust="spacingAndGlyphs" >B Cells</text>
<text x="235.4" y="763.8" font-family="Liberation Sans, Arial, Helvetica, sans-serif" font-weight="bold" stroke="#000" stroke-width="0.25" font-size="15.6" text-anchor="start" textLength="63.4" lengthAdjust="spacingAndGlyphs" >fMVDEC</text>
<text transform="translate(13.4 370.8) rotate(-90)" font-family="Liberation Sans, Arial, Helvetica, sans-serif" font-weight="bold" stroke="#000" stroke-width="0.25" font-size="15.6" textLength="160" lengthAdjust="spacingAndGlyphs">Relative Cell Number</text>
</svg>
</body></html>
